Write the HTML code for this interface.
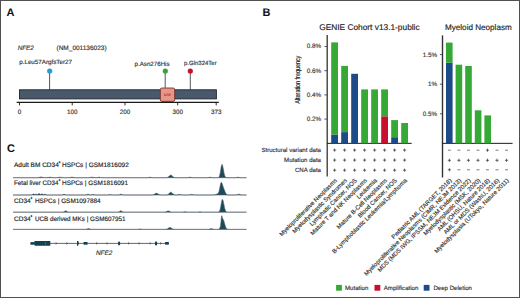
<!DOCTYPE html><html><head><meta charset="utf-8"><style>html,body{margin:0;padding:0;background:#fff;width:520px;height:298px;overflow:hidden}</style></head><body><svg width="520" height="298" viewBox="0 0 520 298" style="display:block;font-family:'Liberation Sans', sans-serif;text-rendering:geometricPrecision">
<rect x="0" y="0" width="520" height="298" fill="#fff"/>
<text x="6.6" y="15.9" font-size="11" font-weight="bold" fill="#111">A</text>
<text x="262.4" y="16.1" font-size="11" font-weight="bold" fill="#111">B</text>
<text x="7.0" y="152.2" font-size="11" font-weight="bold" fill="#111">C</text>
<text x="17.7" y="49.8" font-size="6.3" font-style="italic" fill="#333" stroke="#333" stroke-width="0.15">NFE2</text>
<text x="56.5" y="49.8" font-size="6.5" fill="#333" stroke="#333" stroke-width="0.15">(NM_001136023)</text>
<text x="19.2" y="63.8" font-size="6.25" fill="#333" stroke="#333" stroke-width="0.15">p.Leu57ArgfsTer27</text>
<text x="134.5" y="65.5" font-size="6.2" fill="#333" stroke="#333" stroke-width="0.15">p.Asn276His</text>
<text x="184" y="65.3" font-size="6" fill="#333" stroke="#333" stroke-width="0.15">p.Gln324Ter</text>
<line x1="49.6" y1="71" x2="49.6" y2="89.8" stroke="#2b2b2b" stroke-width="0.8"/>
<line x1="165.2" y1="71" x2="165.2" y2="87.8" stroke="#2b2b2b" stroke-width="0.8"/>
<line x1="190.3" y1="71" x2="190.3" y2="89.8" stroke="#2b2b2b" stroke-width="0.8"/>
<rect x="19.5" y="89.8" width="196.9" height="9.1" fill="#4a596a" stroke="#1e2631" stroke-width="0.9"/>
<rect x="160.3" y="88" width="14.4" height="13.4" rx="1.6" fill="#e8968a" stroke="#6b2a22" stroke-width="0.85"/>
<text x="167.4" y="96.3" font-size="3.2" font-style="italic" text-anchor="middle" fill="#b03a30" stroke="#b03a30" stroke-width="0.15">bZIP</text>
<circle cx="49.7" cy="71" r="2.6" fill="#2a9ad6"/>
<circle cx="165.3" cy="71" r="2.6" fill="#3aa03a"/>
<circle cx="190.3" cy="71" r="2.6" fill="#c8102e"/>
<line x1="16.7" y1="102.4" x2="218.8" y2="102.4" stroke="#1a1a1a" stroke-width="1.1"/>
<line x1="19.50" y1="102.4" x2="19.50" y2="105.4" stroke="#1a1a1a" stroke-width="0.9"/>
<text x="19.50" y="114.1" font-size="6.3" text-anchor="middle" fill="#333" stroke="#333" stroke-width="0.15">0</text>
<line x1="72.23" y1="102.4" x2="72.23" y2="105.4" stroke="#1a1a1a" stroke-width="0.9"/>
<text x="72.23" y="114.1" font-size="6.3" text-anchor="middle" fill="#333" stroke="#333" stroke-width="0.15">100</text>
<line x1="124.97" y1="102.4" x2="124.97" y2="105.4" stroke="#1a1a1a" stroke-width="0.9"/>
<text x="124.97" y="114.1" font-size="6.3" text-anchor="middle" fill="#333" stroke="#333" stroke-width="0.15">200</text>
<line x1="177.70" y1="102.4" x2="177.70" y2="105.4" stroke="#1a1a1a" stroke-width="0.9"/>
<text x="177.70" y="114.1" font-size="6.3" text-anchor="middle" fill="#333" stroke="#333" stroke-width="0.15">300</text>
<line x1="216.20" y1="102.4" x2="216.20" y2="105.4" stroke="#1a1a1a" stroke-width="0.9"/>
<text x="216.20" y="114.1" font-size="6.3" text-anchor="middle" fill="#333" stroke="#333" stroke-width="0.15">373</text>
<text x="319.2" y="29.5" font-size="8.33" fill="#222" stroke="#222" stroke-width="0.15">GENIE Cohort v13.1-public</text>
<line x1="327.2" y1="35" x2="327.2" y2="176.5" stroke="#333" stroke-width="1.3"/>
<line x1="327" y1="143.35" x2="411.7" y2="143.35" stroke="#1a1a1a" stroke-width="1.0"/>
<line x1="324.4" y1="46.50" x2="327" y2="46.50" stroke="#333" stroke-width="0.8"/>
<text x="321.2" y="48.40" font-size="6.3" text-anchor="end" fill="#3a3a3a" stroke="#3a3a3a" stroke-width="0.15">0.8%</text>
<line x1="324.4" y1="70.70" x2="327" y2="70.70" stroke="#333" stroke-width="0.8"/>
<text x="321.2" y="72.60" font-size="6.3" text-anchor="end" fill="#3a3a3a" stroke="#3a3a3a" stroke-width="0.15">0.6%</text>
<line x1="324.4" y1="94.90" x2="327" y2="94.90" stroke="#333" stroke-width="0.8"/>
<text x="321.2" y="96.80" font-size="6.3" text-anchor="end" fill="#3a3a3a" stroke="#3a3a3a" stroke-width="0.15">0.4%</text>
<line x1="324.4" y1="119.10" x2="327" y2="119.10" stroke="#333" stroke-width="0.8"/>
<text x="321.2" y="121.00" font-size="6.3" text-anchor="end" fill="#3a3a3a" stroke="#3a3a3a" stroke-width="0.15">0.2%</text>
<text transform="translate(299.6,79.7) rotate(-90) scale(0.75,1)" font-size="7.2" text-anchor="middle" fill="#111" stroke="#111" stroke-width="0.15">Alteration frequency</text>
<rect x="331.20" y="134.50" width="6.8" height="8.80" fill="#1c4b87"/>
<rect x="331.20" y="42.40" width="6.8" height="92.10" fill="#36a836"/>
<rect x="341.20" y="132.10" width="6.8" height="11.20" fill="#1c4b87"/>
<rect x="341.20" y="65.90" width="6.8" height="66.20" fill="#36a836"/>
<rect x="351.20" y="73.80" width="6.8" height="69.50" fill="#1c4b87"/>
<rect x="361.20" y="89.40" width="6.8" height="53.90" fill="#36a836"/>
<rect x="371.20" y="89.40" width="6.8" height="53.90" fill="#36a836"/>
<rect x="381.20" y="116.30" width="6.8" height="27.00" fill="#c8102e"/>
<rect x="381.20" y="89.40" width="6.8" height="26.90" fill="#36a836"/>
<rect x="391.20" y="137.20" width="6.8" height="6.10" fill="#1c4b87"/>
<rect x="391.20" y="120.10" width="6.8" height="17.10" fill="#36a836"/>
<rect x="401.20" y="123.00" width="6.8" height="20.30" fill="#36a836"/>
<text x="321" y="152.3" font-size="6.1" text-anchor="end" fill="#333" stroke="#333" stroke-width="0.15">Structural variant data</text>
<text x="321" y="162.2" font-size="6.1" text-anchor="end" fill="#333" stroke="#333" stroke-width="0.15">Mutation data</text>
<text x="321" y="172.2" font-size="6.1" text-anchor="end" fill="#333" stroke="#333" stroke-width="0.15">CNA data</text>
<path d="M333.00,150.10H336.20M334.60,148.50V151.70" stroke="#3a3a3a" stroke-width="0.75"/>
<path d="M333.00,160.10H336.20M334.60,158.50V161.70" stroke="#3a3a3a" stroke-width="0.75"/>
<path d="M333.00,170.20H336.20M334.60,168.60V171.80" stroke="#3a3a3a" stroke-width="0.75"/>
<path d="M343.00,150.10H346.20M344.60,148.50V151.70" stroke="#3a3a3a" stroke-width="0.75"/>
<path d="M343.00,160.10H346.20M344.60,158.50V161.70" stroke="#3a3a3a" stroke-width="0.75"/>
<path d="M343.00,170.20H346.20M344.60,168.60V171.80" stroke="#3a3a3a" stroke-width="0.75"/>
<path d="M353.00,150.10H356.20M354.60,148.50V151.70" stroke="#3a3a3a" stroke-width="0.75"/>
<path d="M353.00,160.10H356.20M354.60,158.50V161.70" stroke="#3a3a3a" stroke-width="0.75"/>
<path d="M353.00,170.20H356.20M354.60,168.60V171.80" stroke="#3a3a3a" stroke-width="0.75"/>
<path d="M363.00,150.10H366.20M364.60,148.50V151.70" stroke="#3a3a3a" stroke-width="0.75"/>
<path d="M363.00,160.10H366.20M364.60,158.50V161.70" stroke="#3a3a3a" stroke-width="0.75"/>
<path d="M363.00,170.20H366.20M364.60,168.60V171.80" stroke="#3a3a3a" stroke-width="0.75"/>
<path d="M373.00,150.10H376.20M374.60,148.50V151.70" stroke="#3a3a3a" stroke-width="0.75"/>
<path d="M373.00,160.10H376.20M374.60,158.50V161.70" stroke="#3a3a3a" stroke-width="0.75"/>
<path d="M373.00,170.20H376.20M374.60,168.60V171.80" stroke="#3a3a3a" stroke-width="0.75"/>
<path d="M383.00,150.10H386.20M384.60,148.50V151.70" stroke="#3a3a3a" stroke-width="0.75"/>
<path d="M383.00,160.10H386.20M384.60,158.50V161.70" stroke="#3a3a3a" stroke-width="0.75"/>
<path d="M383.00,170.20H386.20M384.60,168.60V171.80" stroke="#3a3a3a" stroke-width="0.75"/>
<path d="M393.00,150.10H396.20M394.60,148.50V151.70" stroke="#3a3a3a" stroke-width="0.75"/>
<path d="M393.00,160.10H396.20M394.60,158.50V161.70" stroke="#3a3a3a" stroke-width="0.75"/>
<path d="M393.00,170.20H396.20M394.60,168.60V171.80" stroke="#3a3a3a" stroke-width="0.75"/>
<path d="M403.00,150.10H406.20M404.60,148.50V151.70" stroke="#3a3a3a" stroke-width="0.75"/>
<path d="M403.00,160.10H406.20M404.60,158.50V161.70" stroke="#3a3a3a" stroke-width="0.75"/>
<path d="M403.00,170.20H406.20M404.60,168.60V171.80" stroke="#3a3a3a" stroke-width="0.75"/>
<text transform="translate(337.30,180.90) rotate(-45)" font-size="6" text-anchor="end" fill="#333" stroke="#333" stroke-width="0.15">Myeloproliferative Neoplasms</text>
<text transform="translate(347.30,180.90) rotate(-45)" font-size="6" text-anchor="end" fill="#333" stroke="#333" stroke-width="0.15">Myelodysplastic Syndromes</text>
<text transform="translate(357.30,180.90) rotate(-45)" font-size="6" text-anchor="end" fill="#333" stroke="#333" stroke-width="0.15">Lymphatic Cancer, NOS</text>
<text transform="translate(367.30,180.90) rotate(-45)" font-size="6" text-anchor="end" fill="#333" stroke="#333" stroke-width="0.15">Mature T and NK Neoplasms</text>
<text transform="translate(377.30,180.90) rotate(-45)" font-size="6" text-anchor="end" fill="#333" stroke="#333" stroke-width="0.15">Leukemia</text>
<text transform="translate(387.30,180.90) rotate(-45)" font-size="6" text-anchor="end" fill="#333" stroke="#333" stroke-width="0.15">Mature B-Cell Neoplasms</text>
<text transform="translate(397.30,180.90) rotate(-45)" font-size="6" text-anchor="end" fill="#333" stroke="#333" stroke-width="0.15">Blood Cancer, NOS</text>
<text transform="translate(407.30,180.90) rotate(-45)" font-size="6" text-anchor="end" fill="#333" stroke="#333" stroke-width="0.15">B-Lymphoblastic Leukemia/Lymphoma</text>
<text x="445.0" y="29.7" font-size="8.12" fill="#222" stroke="#222" stroke-width="0.15">Myeloid Neoplasm</text>
<line x1="442.5" y1="35.4" x2="442.5" y2="177.5" stroke="#333" stroke-width="1.4"/>
<line x1="442.5" y1="143.35" x2="512.6" y2="143.35" stroke="#1a1a1a" stroke-width="1.0"/>
<line x1="439.9" y1="54.60" x2="442.5" y2="54.60" stroke="#333" stroke-width="0.8"/>
<text x="437.0" y="56.50" font-size="6.3" text-anchor="end" fill="#3a3a3a" stroke="#3a3a3a" stroke-width="0.15">1.5%</text>
<line x1="439.9" y1="84.20" x2="442.5" y2="84.20" stroke="#333" stroke-width="0.8"/>
<text x="437.0" y="86.10" font-size="6.3" text-anchor="end" fill="#3a3a3a" stroke="#3a3a3a" stroke-width="0.15">1%</text>
<line x1="439.9" y1="113.80" x2="442.5" y2="113.80" stroke="#333" stroke-width="0.8"/>
<text x="437.0" y="115.70" font-size="6.3" text-anchor="end" fill="#3a3a3a" stroke="#3a3a3a" stroke-width="0.15">0.5%</text>
<rect x="446.00" y="62.70" width="6.6" height="80.70" fill="#1c4b87"/>
<rect x="446.00" y="42.60" width="6.6" height="20.10" fill="#36a836"/>
<rect x="455.60" y="64.70" width="6.6" height="78.70" fill="#36a836"/>
<rect x="465.20" y="66.00" width="6.6" height="77.40" fill="#36a836"/>
<rect x="474.80" y="110.30" width="6.6" height="33.10" fill="#36a836"/>
<rect x="484.40" y="115.40" width="6.6" height="28.00" fill="#36a836"/>
<path d="M447.90,150.20H450.90" stroke="#444" stroke-width="0.7"/>
<path d="M457.42,150.20H460.42" stroke="#444" stroke-width="0.7"/>
<path d="M466.94,150.20H469.94" stroke="#444" stroke-width="0.7"/>
<path d="M476.46,150.20H479.46" stroke="#444" stroke-width="0.7"/>
<path d="M485.88,150.20H489.08M487.48,148.60V151.80" stroke="#3a3a3a" stroke-width="0.75"/>
<path d="M495.50,150.20H498.50" stroke="#444" stroke-width="0.7"/>
<path d="M505.02,150.20H508.02" stroke="#444" stroke-width="0.7"/>
<path d="M447.80,160.30H451.00M449.40,158.70V161.90" stroke="#3a3a3a" stroke-width="0.75"/>
<path d="M457.32,160.30H460.52M458.92,158.70V161.90" stroke="#3a3a3a" stroke-width="0.75"/>
<path d="M466.84,160.30H470.04M468.44,158.70V161.90" stroke="#3a3a3a" stroke-width="0.75"/>
<path d="M476.36,160.30H479.56M477.96,158.70V161.90" stroke="#3a3a3a" stroke-width="0.75"/>
<path d="M485.88,160.30H489.08M487.48,158.70V161.90" stroke="#3a3a3a" stroke-width="0.75"/>
<path d="M495.40,160.30H498.60M497.00,158.70V161.90" stroke="#3a3a3a" stroke-width="0.75"/>
<path d="M504.92,160.30H508.12M506.52,158.70V161.90" stroke="#3a3a3a" stroke-width="0.75"/>
<path d="M447.80,169.80H451.00M449.40,168.20V171.40" stroke="#3a3a3a" stroke-width="0.75"/>
<path d="M457.42,169.80H460.42" stroke="#444" stroke-width="0.7"/>
<path d="M466.94,169.80H469.94" stroke="#444" stroke-width="0.7"/>
<path d="M476.46,169.80H479.46" stroke="#444" stroke-width="0.7"/>
<path d="M485.98,169.80H488.98" stroke="#444" stroke-width="0.7"/>
<path d="M495.50,169.80H498.50" stroke="#444" stroke-width="0.7"/>
<path d="M505.02,169.80H508.02" stroke="#444" stroke-width="0.7"/>
<text transform="translate(452.10,180.90) rotate(-45)" font-size="6" text-anchor="end" fill="#333" stroke="#333" stroke-width="0.15">Pediatric AML (TARGET, 2018)</text>
<text transform="translate(461.62,180.90) rotate(-45)" font-size="6" text-anchor="end" fill="#333" stroke="#333" stroke-width="0.15">Myeloproliferative Neoplasms (CIMR, NEJM 2013)</text>
<text transform="translate(471.14,180.90) rotate(-45)" font-size="6" text-anchor="end" fill="#333" stroke="#333" stroke-width="0.15">MDS (MDS IWG, IPSSM, NEJM Evidence 2022)</text>
<text transform="translate(480.66,180.90) rotate(-45)" font-size="6" text-anchor="end" fill="#333" stroke="#333" stroke-width="0.15">Myelodysplastic (MSK, 2020)</text>
<text transform="translate(490.18,180.90) rotate(-45)" font-size="6" text-anchor="end" fill="#333" stroke="#333" stroke-width="0.15">AML (OHSU, Nature 2018)</text>
<text transform="translate(499.70,180.90) rotate(-45)" font-size="6" text-anchor="end" fill="#333" stroke="#333" stroke-width="0.15">AML or MDS (WashU, 2016)</text>
<text transform="translate(509.22,180.90) rotate(-45)" font-size="6" text-anchor="end" fill="#333" stroke="#333" stroke-width="0.15">Myelodysplasia (UTokyo, Nature 2011)</text>
<rect x="336.1" y="284.9" width="5.8" height="5.8" fill="#36a836"/>
<text x="345" y="290.1" font-size="6.1" fill="#333" stroke="#333" stroke-width="0.15">Mutation</text>
<rect x="374.5" y="284.9" width="5.8" height="5.8" fill="#c8102e"/>
<text x="383.8" y="290.1" font-size="6.1" fill="#333" stroke="#333" stroke-width="0.15">Amplification</text>
<rect x="423.7" y="284.9" width="5.8" height="5.8" fill="#1c4b87"/>
<text x="433.4" y="290.1" font-size="6.1" fill="#333" stroke="#333" stroke-width="0.15">Deep Deletion</text>
<path d="M13.00,177.70 L13.00,177.70 L13.25,177.70 L13.50,177.70 L13.75,177.70 L14.00,177.70 L14.25,177.70 L14.50,177.70 L14.75,177.70 L15.00,177.70 L15.25,177.70 L15.50,177.70 L15.75,177.70 L16.00,177.70 L16.25,177.70 L16.50,177.70 L16.75,177.70 L17.00,177.70 L17.25,177.70 L17.50,177.70 L17.75,177.70 L18.00,177.70 L18.25,177.70 L18.50,177.70 L18.75,177.70 L19.00,177.70 L19.25,177.70 L19.50,177.70 L19.75,177.70 L20.00,177.70 L20.25,177.70 L20.50,177.70 L20.75,177.70 L21.00,177.70 L21.25,177.70 L21.50,177.70 L21.75,177.70 L22.00,177.70 L22.25,177.70 L22.50,177.70 L22.75,177.70 L23.00,177.70 L23.25,177.70 L23.50,177.70 L23.75,177.70 L24.00,177.70 L24.25,177.70 L24.50,177.70 L24.75,177.70 L25.00,177.70 L25.25,177.70 L25.50,177.70 L25.75,177.70 L26.00,177.70 L26.25,177.70 L26.50,177.70 L26.75,177.70 L27.00,177.70 L27.25,177.70 L27.50,177.70 L27.75,177.70 L28.00,177.70 L28.25,177.70 L28.50,177.70 L28.75,177.70 L29.00,177.70 L29.25,177.70 L29.50,177.70 L29.75,177.70 L30.00,177.70 L30.25,177.70 L30.50,177.70 L30.75,177.70 L31.00,177.70 L31.25,177.70 L31.50,177.70 L31.75,177.70 L32.00,177.70 L32.25,177.70 L32.50,177.70 L32.75,177.70 L33.00,177.70 L33.25,177.70 L33.50,177.70 L33.75,177.70 L34.00,177.70 L34.25,177.70 L34.50,177.70 L34.75,177.70 L35.00,177.70 L35.25,177.70 L35.50,177.70 L35.75,177.70 L36.00,177.70 L36.25,177.70 L36.50,177.69 L36.75,177.69 L37.00,177.68 L37.25,177.67 L37.50,177.65 L37.75,177.63 L38.00,177.61 L38.25,177.57 L38.50,177.53 L38.75,177.47 L39.00,177.41 L39.25,177.35 L39.50,177.28 L39.75,177.21 L40.00,177.14 L40.25,177.08 L40.50,177.04 L40.75,177.01 L41.00,177.00 L41.25,177.01 L41.50,177.04 L41.75,177.08 L42.00,177.14 L42.25,177.21 L42.50,177.28 L42.75,177.35 L43.00,177.41 L43.25,177.47 L43.50,177.53 L43.75,177.57 L44.00,177.61 L44.25,177.63 L44.50,177.65 L44.75,177.67 L45.00,177.68 L45.25,177.68 L45.50,177.69 L45.75,177.69 L46.00,177.68 L46.25,177.68 L46.50,177.67 L46.75,177.65 L47.00,177.63 L47.25,177.61 L47.50,177.58 L47.75,177.54 L48.00,177.49 L48.25,177.45 L48.50,177.40 L48.75,177.35 L49.00,177.30 L49.25,177.26 L49.50,177.23 L49.75,177.21 L50.00,177.20 L50.25,177.21 L50.50,177.23 L50.75,177.26 L51.00,177.30 L51.25,177.35 L51.50,177.40 L51.75,177.45 L52.00,177.49 L52.25,177.54 L52.50,177.58 L52.75,177.61 L53.00,177.63 L53.25,177.65 L53.50,177.67 L53.75,177.68 L54.00,177.69 L54.25,177.69 L54.50,177.69 L54.75,177.70 L55.00,177.70 L55.25,177.70 L55.50,177.69 L55.75,177.69 L56.00,177.69 L56.25,177.68 L56.50,177.67 L56.75,177.65 L57.00,177.63 L57.25,177.61 L57.50,177.58 L57.75,177.54 L58.00,177.49 L58.25,177.45 L58.50,177.40 L58.75,177.35 L59.00,177.30 L59.25,177.26 L59.50,177.23 L59.75,177.21 L60.00,177.20 L60.25,177.21 L60.50,177.23 L60.75,177.26 L61.00,177.30 L61.25,177.35 L61.50,177.40 L61.75,177.45 L62.00,177.49 L62.25,177.54 L62.50,177.58 L62.75,177.61 L63.00,177.63 L63.25,177.65 L63.50,177.67 L63.75,177.68 L64.00,177.69 L64.25,177.69 L64.50,177.69 L64.75,177.70 L65.00,177.70 L65.25,177.70 L65.50,177.70 L65.75,177.70 L66.00,177.70 L66.25,177.70 L66.50,177.70 L66.75,177.70 L67.00,177.70 L67.25,177.70 L67.50,177.69 L67.75,177.69 L68.00,177.69 L68.25,177.68 L68.50,177.67 L68.75,177.65 L69.00,177.63 L69.25,177.61 L69.50,177.58 L69.75,177.54 L70.00,177.49 L70.25,177.45 L70.50,177.40 L70.75,177.35 L71.00,177.30 L71.25,177.26 L71.50,177.23 L71.75,177.21 L72.00,177.20 L72.25,177.21 L72.50,177.23 L72.75,177.26 L73.00,177.30 L73.25,177.35 L73.50,177.40 L73.75,177.45 L74.00,177.49 L74.25,177.54 L74.50,177.58 L74.75,177.61 L75.00,177.63 L75.25,177.65 L75.50,177.67 L75.75,177.68 L76.00,177.69 L76.25,177.69 L76.50,177.69 L76.75,177.70 L77.00,177.70 L77.25,177.70 L77.50,177.70 L77.75,177.70 L78.00,177.70 L78.25,177.70 L78.50,177.70 L78.75,177.70 L79.00,177.70 L79.25,177.70 L79.50,177.70 L79.75,177.70 L80.00,177.70 L80.25,177.70 L80.50,177.70 L80.75,177.70 L81.00,177.70 L81.25,177.70 L81.50,177.70 L81.75,177.70 L82.00,177.70 L82.25,177.70 L82.50,177.70 L82.75,177.70 L83.00,177.70 L83.25,177.70 L83.50,177.70 L83.75,177.70 L84.00,177.70 L84.25,177.70 L84.50,177.70 L84.75,177.70 L85.00,177.70 L85.25,177.70 L85.50,177.70 L85.75,177.70 L86.00,177.70 L86.25,177.70 L86.50,177.70 L86.75,177.70 L87.00,177.70 L87.25,177.70 L87.50,177.69 L87.75,177.69 L88.00,177.69 L88.25,177.68 L88.50,177.67 L88.75,177.65 L89.00,177.63 L89.25,177.61 L89.50,177.58 L89.75,177.54 L90.00,177.49 L90.25,177.45 L90.50,177.40 L90.75,177.35 L91.00,177.30 L91.25,177.26 L91.50,177.23 L91.75,177.21 L92.00,177.20 L92.25,177.21 L92.50,177.23 L92.75,177.26 L93.00,177.30 L93.25,177.35 L93.50,177.40 L93.75,177.45 L94.00,177.49 L94.25,177.54 L94.50,177.57 L94.75,177.61 L95.00,177.63 L95.25,177.65 L95.50,177.66 L95.75,177.67 L96.00,177.66 L96.25,177.65 L96.50,177.64 L96.75,177.61 L97.00,177.57 L97.25,177.53 L97.50,177.47 L97.75,177.41 L98.00,177.35 L98.25,177.29 L98.50,177.24 L98.75,177.21 L99.00,177.20 L99.25,177.21 L99.50,177.24 L99.75,177.29 L100.00,177.35 L100.25,177.41 L100.50,177.47 L100.75,177.53 L101.00,177.58 L101.25,177.61 L101.50,177.64 L101.75,177.66 L102.00,177.68 L102.25,177.69 L102.50,177.69 L102.75,177.70 L103.00,177.70 L103.25,177.70 L103.50,177.70 L103.75,177.70 L104.00,177.70 L104.25,177.70 L104.50,177.70 L104.75,177.70 L105.00,177.70 L105.25,177.70 L105.50,177.70 L105.75,177.70 L106.00,177.70 L106.25,177.70 L106.50,177.70 L106.75,177.70 L107.00,177.70 L107.25,177.70 L107.50,177.70 L107.75,177.70 L108.00,177.70 L108.25,177.70 L108.50,177.70 L108.75,177.70 L109.00,177.70 L109.25,177.70 L109.50,177.70 L109.75,177.70 L110.00,177.70 L110.25,177.70 L110.50,177.70 L110.75,177.70 L111.00,177.70 L111.25,177.70 L111.50,177.70 L111.75,177.70 L112.00,177.70 L112.25,177.70 L112.50,177.70 L112.75,177.70 L113.00,177.70 L113.25,177.70 L113.50,177.70 L113.75,177.70 L114.00,177.70 L114.25,177.70 L114.50,177.70 L114.75,177.70 L115.00,177.70 L115.25,177.70 L115.50,177.70 L115.75,177.70 L116.00,177.70 L116.25,177.70 L116.50,177.70 L116.75,177.70 L117.00,177.70 L117.25,177.70 L117.50,177.70 L117.75,177.70 L118.00,177.70 L118.25,177.70 L118.50,177.70 L118.75,177.70 L119.00,177.70 L119.25,177.70 L119.50,177.70 L119.75,177.70 L120.00,177.70 L120.25,177.70 L120.50,177.70 L120.75,177.70 L121.00,177.70 L121.25,177.70 L121.50,177.70 L121.75,177.70 L122.00,177.70 L122.25,177.70 L122.50,177.70 L122.75,177.70 L123.00,177.70 L123.25,177.70 L123.50,177.70 L123.75,177.70 L124.00,177.70 L124.25,177.70 L124.50,177.70 L124.75,177.70 L125.00,177.70 L125.25,177.70 L125.50,177.70 L125.75,177.70 L126.00,177.70 L126.25,177.70 L126.50,177.70 L126.75,177.70 L127.00,177.70 L127.25,177.70 L127.50,177.70 L127.75,177.70 L128.00,177.70 L128.25,177.70 L128.50,177.70 L128.75,177.70 L129.00,177.70 L129.25,177.70 L129.50,177.70 L129.75,177.70 L130.00,177.70 L130.25,177.70 L130.50,177.70 L130.75,177.70 L131.00,177.70 L131.25,177.70 L131.50,177.70 L131.75,177.70 L132.00,177.70 L132.25,177.70 L132.50,177.70 L132.75,177.70 L133.00,177.70 L133.25,177.70 L133.50,177.70 L133.75,177.70 L134.00,177.70 L134.25,177.70 L134.50,177.70 L134.75,177.70 L135.00,177.70 L135.25,177.70 L135.50,177.70 L135.75,177.70 L136.00,177.70 L136.25,177.70 L136.50,177.70 L136.75,177.70 L137.00,177.70 L137.25,177.70 L137.50,177.70 L137.75,177.70 L138.00,177.70 L138.25,177.70 L138.50,177.70 L138.75,177.70 L139.00,177.70 L139.25,177.70 L139.50,177.70 L139.75,177.70 L140.00,177.70 L140.25,177.70 L140.50,177.70 L140.75,177.70 L141.00,177.70 L141.25,177.70 L141.50,177.70 L141.75,177.70 L142.00,177.70 L142.25,177.70 L142.50,177.70 L142.75,177.70 L143.00,177.70 L143.25,177.70 L143.50,177.70 L143.75,177.70 L144.00,177.70 L144.25,177.70 L144.50,177.70 L144.75,177.70 L145.00,177.70 L145.25,177.70 L145.50,177.70 L145.75,177.70 L146.00,177.70 L146.25,177.70 L146.50,177.69 L146.75,177.69 L147.00,177.68 L147.25,177.67 L147.50,177.65 L147.75,177.63 L148.00,177.60 L148.25,177.56 L148.50,177.52 L148.75,177.47 L149.00,177.42 L149.25,177.37 L149.50,177.33 L149.75,177.31 L150.00,177.30 L150.25,177.31 L150.50,177.33 L150.75,177.37 L151.00,177.42 L151.25,177.47 L151.50,177.52 L151.75,177.56 L152.00,177.60 L152.25,177.63 L152.50,177.65 L152.75,177.67 L153.00,177.68 L153.25,177.69 L153.50,177.69 L153.75,177.70 L154.00,177.70 L154.25,177.70 L154.50,177.70 L154.75,177.70 L155.00,177.70 L155.25,177.70 L155.50,177.70 L155.75,177.70 L156.00,177.70 L156.25,177.70 L156.50,177.70 L156.75,177.70 L157.00,177.70 L157.25,177.70 L157.50,177.70 L157.75,177.70 L158.00,177.70 L158.25,177.70 L158.50,177.70 L158.75,177.70 L159.00,177.70 L159.25,177.70 L159.50,177.70 L159.75,177.70 L160.00,177.70 L160.25,177.70 L160.50,177.70 L160.75,177.70 L161.00,177.70 L161.25,177.70 L161.50,177.70 L161.75,177.70 L162.00,177.70 L162.25,177.70 L162.50,177.70 L162.75,177.70 L163.00,177.70 L163.25,177.70 L163.50,177.70 L163.75,177.70 L164.00,177.70 L164.25,177.70 L164.50,177.70 L164.75,177.70 L165.00,177.70 L165.25,177.69 L165.50,177.69 L165.75,177.68 L166.00,177.67 L166.25,177.65 L166.50,177.63 L166.75,177.59 L167.00,177.55 L167.25,177.48 L167.50,177.39 L167.75,177.28 L168.00,177.14 L168.25,176.97 L168.50,176.77 L168.75,176.56 L169.00,176.32 L169.25,176.07 L169.50,175.83 L169.75,175.60 L170.00,175.41 L170.25,175.25 L170.50,175.15 L170.75,175.10 L171.00,175.12 L171.25,175.20 L171.50,175.34 L171.75,175.52 L172.00,175.74 L172.25,175.98 L172.50,176.22 L172.75,176.46 L173.00,176.69 L173.25,176.89 L173.50,177.07 L173.75,177.22 L174.00,177.35 L174.25,177.45 L174.50,177.52 L174.75,177.58 L175.00,177.62 L175.25,177.65 L175.50,177.67 L175.75,177.68 L176.00,177.69 L176.25,177.69 L176.50,177.70 L176.75,177.70 L177.00,177.70 L177.25,177.70 L177.50,177.70 L177.75,177.70 L178.00,177.70 L178.25,177.70 L178.50,177.70 L178.75,177.70 L179.00,177.70 L179.25,177.70 L179.50,177.70 L179.75,177.70 L180.00,177.70 L180.25,177.70 L180.50,177.70 L180.75,177.70 L181.00,177.70 L181.25,177.70 L181.50,177.70 L181.75,177.70 L182.00,177.70 L182.25,177.70 L182.50,177.70 L182.75,177.70 L183.00,177.70 L183.25,177.70 L183.50,177.70 L183.75,177.70 L184.00,177.70 L184.25,177.70 L184.50,177.70 L184.75,177.70 L185.00,177.70 L185.25,177.70 L185.50,177.70 L185.75,177.70 L186.00,177.70 L186.25,177.70 L186.50,177.69 L186.75,177.69 L187.00,177.68 L187.25,177.66 L187.50,177.64 L187.75,177.61 L188.00,177.58 L188.25,177.53 L188.50,177.47 L188.75,177.41 L189.00,177.35 L189.25,177.29 L189.50,177.24 L189.75,177.21 L190.00,177.20 L190.25,177.21 L190.50,177.24 L190.75,177.29 L191.00,177.35 L191.25,177.41 L191.50,177.47 L191.75,177.53 L192.00,177.58 L192.25,177.61 L192.50,177.64 L192.75,177.66 L193.00,177.68 L193.25,177.69 L193.50,177.69 L193.75,177.70 L194.00,177.70 L194.25,177.70 L194.50,177.70 L194.75,177.70 L195.00,177.70 L195.25,177.70 L195.50,177.70 L195.75,177.70 L196.00,177.70 L196.25,177.70 L196.50,177.70 L196.75,177.70 L197.00,177.70 L197.25,177.70 L197.50,177.70 L197.75,177.70 L198.00,177.70 L198.25,177.70 L198.50,177.70 L198.75,177.70 L199.00,177.70 L199.25,177.70 L199.50,177.70 L199.75,177.70 L200.00,177.70 L200.25,177.70 L200.50,177.70 L200.75,177.70 L201.00,177.70 L201.25,177.70 L201.50,177.70 L201.75,177.70 L202.00,177.70 L202.25,177.70 L202.50,177.70 L202.75,177.70 L203.00,177.70 L203.25,177.70 L203.50,177.70 L203.75,177.70 L204.00,177.70 L204.25,177.70 L204.50,177.70 L204.75,177.70 L205.00,177.70 L205.25,177.70 L205.50,177.70 L205.75,177.70 L206.00,177.70 L206.25,177.70 L206.50,177.69 L206.75,177.69 L207.00,177.68 L207.25,177.67 L207.50,177.65 L207.75,177.63 L208.00,177.60 L208.25,177.56 L208.50,177.52 L208.75,177.47 L209.00,177.42 L209.25,177.37 L209.50,177.33 L209.75,177.31 L210.00,177.30 L210.25,177.31 L210.50,177.33 L210.75,177.37 L211.00,177.42 L211.25,177.47 L211.50,177.52 L211.75,177.56 L212.00,177.60 L212.25,177.63 L212.50,177.65 L212.75,177.67 L213.00,177.68 L213.25,177.69 L213.50,177.69 L213.75,177.70 L214.00,177.70 L214.25,177.70 L214.50,177.70 L214.75,177.70 L215.00,177.70 L215.25,177.70 L215.50,177.70 L215.75,177.70 L216.00,177.70 L216.25,177.70 L216.50,177.70 L216.75,177.70 L217.00,177.70 L217.25,177.69 L217.50,177.68 L217.75,177.66 L218.00,177.62 L218.25,177.55 L218.50,177.44 L218.75,177.25 L219.00,176.95 L219.25,176.52 L219.50,175.90 L219.75,175.07 L220.00,174.00 L220.25,172.71 L220.50,171.23 L220.75,169.63 L221.00,168.04 L221.25,166.59 L221.50,165.42 L221.75,164.66 L222.00,164.40 L222.25,164.61 L222.50,165.22 L222.75,166.18 L223.00,167.39 L223.25,168.77 L223.50,170.21 L223.75,171.61 L224.00,172.91 L224.25,174.04 L224.50,175.00 L224.75,175.77 L225.00,176.36 L225.25,176.80 L225.50,177.12 L225.75,177.33 L226.00,177.48 L226.25,177.57 L226.50,177.62 L226.75,177.66 L227.00,177.68 L227.25,177.69 L227.50,177.69 L227.75,177.70 L228.00,177.70 L228.25,177.70 L228.50,177.70 L228.75,177.70 L229.00,177.70 L229.25,177.70 L229.50,177.70 L229.75,177.70 L230.00,177.70 L230.25,177.70 L230.50,177.70 L230.75,177.70 L231.00,177.70 L231.25,177.70 L231.50,177.70 L231.75,177.70 L232.00,177.70 L232.25,177.70 L232.50,177.70 L232.75,177.70 L233.00,177.70 L233.25,177.70 L233.50,177.70 L233.75,177.70 L234.00,177.70 L234.25,177.70 L234.50,177.69 L234.75,177.69 L235.00,177.68 L235.25,177.67 L235.50,177.65 L235.75,177.63 L236.00,177.60 L236.25,177.56 L236.50,177.52 L236.75,177.47 L237.00,177.42 L237.25,177.37 L237.50,177.33 L237.75,177.31 L238.00,177.30 L238.25,177.31 L238.50,177.33 L238.75,177.37 L239.00,177.42 L239.25,177.47 L239.50,177.52 L239.75,177.56 L240.00,177.60 L240.25,177.63 L240.50,177.65 L240.75,177.67 L241.00,177.68 L241.25,177.69 L241.50,177.69 L241.75,177.70 L242.00,177.70 L242.25,177.70 L242.50,177.70 L242.75,177.70 L243.00,177.70 L243.25,177.70 L243.50,177.70 L243.75,177.70 L244.00,177.70 L244.25,177.70 L244.50,177.70 L244.75,177.70 L245.00,177.70 L245.25,177.70 L245.50,177.70 L245.75,177.70 L246.00,177.70 L246.25,177.70 L246.50,177.70 L246.50,177.70 Z" fill="#1b4a5a" stroke="#4d5d66" stroke-width="0.6" stroke-linejoin="round"/>
<text x="14" y="166.90" font-size="6.5" fill="#222" stroke="#222" stroke-width="0.15">Adult BM CD34</text>
<text x="62.0" y="166.90" font-size="6.5" fill="#222" stroke="#222" stroke-width="0.15" textLength="66.80" lengthAdjust="spacingAndGlyphs">HSPCs | GSM1816092</text>
<path d="M58.45,162.20H60.75M59.60,161.05V163.35" stroke="#222" stroke-width="0.6"/>
<path d="M13.00,195.00 L13.00,195.00 L13.25,195.00 L13.50,195.00 L13.75,195.00 L14.00,195.00 L14.25,195.00 L14.50,195.00 L14.75,195.00 L15.00,195.00 L15.25,195.00 L15.50,195.00 L15.75,195.00 L16.00,195.00 L16.25,195.00 L16.50,195.00 L16.75,195.00 L17.00,195.00 L17.25,195.00 L17.50,195.00 L17.75,195.00 L18.00,195.00 L18.25,195.00 L18.50,195.00 L18.75,195.00 L19.00,195.00 L19.25,195.00 L19.50,195.00 L19.75,195.00 L20.00,195.00 L20.25,195.00 L20.50,195.00 L20.75,195.00 L21.00,195.00 L21.25,195.00 L21.50,195.00 L21.75,195.00 L22.00,195.00 L22.25,195.00 L22.50,195.00 L22.75,195.00 L23.00,195.00 L23.25,195.00 L23.50,195.00 L23.75,195.00 L24.00,195.00 L24.25,195.00 L24.50,195.00 L24.75,195.00 L25.00,195.00 L25.25,195.00 L25.50,195.00 L25.75,195.00 L26.00,195.00 L26.25,195.00 L26.50,195.00 L26.75,195.00 L27.00,195.00 L27.25,195.00 L27.50,195.00 L27.75,195.00 L28.00,195.00 L28.25,195.00 L28.50,195.00 L28.75,195.00 L29.00,195.00 L29.25,195.00 L29.50,195.00 L29.75,195.00 L30.00,195.00 L30.25,195.00 L30.50,195.00 L30.75,195.00 L31.00,194.99 L31.25,194.98 L31.50,194.95 L31.75,194.90 L32.00,194.81 L32.25,194.68 L32.50,194.50 L32.75,194.29 L33.00,194.09 L33.25,193.95 L33.50,193.89 L33.75,193.94 L34.00,194.06 L34.25,194.22 L34.50,194.36 L34.75,194.44 L35.00,194.44 L35.25,194.38 L35.50,194.29 L35.75,194.21 L36.00,194.19 L36.25,194.22 L36.50,194.31 L36.75,194.42 L37.00,194.52 L37.25,194.55 L37.50,194.51 L37.75,194.39 L38.00,194.21 L38.25,194.00 L38.50,193.79 L38.75,193.65 L39.00,193.60 L39.25,193.65 L39.50,193.79 L39.75,193.99 L40.00,194.20 L40.25,194.37 L40.50,194.46 L40.75,194.46 L41.00,194.38 L41.25,194.23 L41.50,194.07 L41.75,193.94 L42.00,193.89 L42.25,193.95 L42.50,194.09 L42.75,194.28 L43.00,194.46 L43.25,194.60 L43.50,194.67 L43.75,194.66 L44.00,194.59 L44.25,194.46 L44.50,194.33 L44.75,194.24 L45.00,194.20 L45.25,194.24 L45.50,194.34 L45.75,194.48 L46.00,194.63 L46.25,194.76 L46.50,194.86 L46.75,194.93 L47.00,194.96 L47.25,194.98 L47.50,194.99 L47.75,195.00 L48.00,195.00 L48.25,195.00 L48.50,195.00 L48.75,195.00 L49.00,195.00 L49.25,195.00 L49.50,195.00 L49.75,195.00 L50.00,195.00 L50.25,195.00 L50.50,195.00 L50.75,195.00 L51.00,195.00 L51.25,195.00 L51.50,195.00 L51.75,195.00 L52.00,195.00 L52.25,195.00 L52.50,195.00 L52.75,195.00 L53.00,195.00 L53.25,195.00 L53.50,195.00 L53.75,195.00 L54.00,195.00 L54.25,195.00 L54.50,195.00 L54.75,195.00 L55.00,195.00 L55.25,195.00 L55.50,195.00 L55.75,195.00 L56.00,195.00 L56.25,195.00 L56.50,195.00 L56.75,195.00 L57.00,195.00 L57.25,195.00 L57.50,195.00 L57.75,195.00 L58.00,195.00 L58.25,195.00 L58.50,195.00 L58.75,195.00 L59.00,195.00 L59.25,195.00 L59.50,195.00 L59.75,195.00 L60.00,195.00 L60.25,195.00 L60.50,195.00 L60.75,195.00 L61.00,194.99 L61.25,194.98 L61.50,194.97 L61.75,194.94 L62.00,194.91 L62.25,194.85 L62.50,194.77 L62.75,194.68 L63.00,194.58 L63.25,194.47 L63.50,194.38 L63.75,194.32 L64.00,194.30 L64.25,194.32 L64.50,194.38 L64.75,194.47 L65.00,194.58 L65.25,194.68 L65.50,194.77 L65.75,194.85 L66.00,194.91 L66.25,194.94 L66.50,194.97 L66.75,194.98 L67.00,194.99 L67.25,195.00 L67.50,195.00 L67.75,195.00 L68.00,195.00 L68.25,195.00 L68.50,195.00 L68.75,195.00 L69.00,195.00 L69.25,195.00 L69.50,195.00 L69.75,195.00 L70.00,195.00 L70.25,195.00 L70.50,195.00 L70.75,195.00 L71.00,195.00 L71.25,195.00 L71.50,195.00 L71.75,195.00 L72.00,195.00 L72.25,195.00 L72.50,195.00 L72.75,195.00 L73.00,195.00 L73.25,195.00 L73.50,195.00 L73.75,195.00 L74.00,195.00 L74.25,195.00 L74.50,195.00 L74.75,195.00 L75.00,195.00 L75.25,195.00 L75.50,195.00 L75.75,195.00 L76.00,195.00 L76.25,195.00 L76.50,195.00 L76.75,195.00 L77.00,195.00 L77.25,195.00 L77.50,195.00 L77.75,195.00 L78.00,195.00 L78.25,195.00 L78.50,195.00 L78.75,195.00 L79.00,195.00 L79.25,195.00 L79.50,195.00 L79.75,195.00 L80.00,195.00 L80.25,195.00 L80.50,195.00 L80.75,195.00 L81.00,195.00 L81.25,195.00 L81.50,195.00 L81.75,195.00 L82.00,195.00 L82.25,195.00 L82.50,195.00 L82.75,195.00 L83.00,195.00 L83.25,195.00 L83.50,195.00 L83.75,195.00 L84.00,195.00 L84.25,195.00 L84.50,195.00 L84.75,195.00 L85.00,194.99 L85.25,194.98 L85.50,194.97 L85.75,194.94 L86.00,194.91 L86.25,194.85 L86.50,194.77 L86.75,194.68 L87.00,194.58 L87.25,194.47 L87.50,194.38 L87.75,194.32 L88.00,194.30 L88.25,194.32 L88.50,194.38 L88.75,194.47 L89.00,194.58 L89.25,194.68 L89.50,194.77 L89.75,194.85 L90.00,194.90 L90.25,194.93 L90.50,194.94 L90.75,194.94 L91.00,194.91 L91.25,194.87 L91.50,194.80 L91.75,194.72 L92.00,194.64 L92.25,194.55 L92.50,194.47 L92.75,194.42 L93.00,194.40 L93.25,194.42 L93.50,194.47 L93.75,194.55 L94.00,194.64 L94.25,194.73 L94.50,194.81 L94.75,194.87 L95.00,194.92 L95.25,194.95 L95.50,194.97 L95.75,194.99 L96.00,194.99 L96.25,195.00 L96.50,195.00 L96.75,195.00 L97.00,195.00 L97.25,195.00 L97.50,195.00 L97.75,195.00 L98.00,195.00 L98.25,195.00 L98.50,195.00 L98.75,195.00 L99.00,195.00 L99.25,195.00 L99.50,195.00 L99.75,195.00 L100.00,195.00 L100.25,195.00 L100.50,195.00 L100.75,195.00 L101.00,195.00 L101.25,195.00 L101.50,195.00 L101.75,195.00 L102.00,195.00 L102.25,195.00 L102.50,195.00 L102.75,195.00 L103.00,195.00 L103.25,195.00 L103.50,195.00 L103.75,195.00 L104.00,195.00 L104.25,195.00 L104.50,195.00 L104.75,195.00 L105.00,195.00 L105.25,195.00 L105.50,195.00 L105.75,195.00 L106.00,195.00 L106.25,195.00 L106.50,195.00 L106.75,195.00 L107.00,195.00 L107.25,194.99 L107.50,194.98 L107.75,194.97 L108.00,194.95 L108.25,194.91 L108.50,194.87 L108.75,194.82 L109.00,194.76 L109.25,194.70 L109.50,194.65 L109.75,194.61 L110.00,194.60 L110.25,194.61 L110.50,194.65 L110.75,194.70 L111.00,194.76 L111.25,194.82 L111.50,194.87 L111.75,194.91 L112.00,194.95 L112.25,194.97 L112.50,194.98 L112.75,194.99 L113.00,195.00 L113.25,195.00 L113.50,195.00 L113.75,195.00 L114.00,195.00 L114.25,195.00 L114.50,195.00 L114.75,195.00 L115.00,195.00 L115.25,195.00 L115.50,195.00 L115.75,195.00 L116.00,195.00 L116.25,195.00 L116.50,195.00 L116.75,195.00 L117.00,195.00 L117.25,195.00 L117.50,195.00 L117.75,195.00 L118.00,194.99 L118.25,194.98 L118.50,194.96 L118.75,194.94 L119.00,194.89 L119.25,194.83 L119.50,194.74 L119.75,194.63 L120.00,194.51 L120.25,194.40 L120.50,194.29 L120.75,194.22 L121.00,194.20 L121.25,194.22 L121.50,194.29 L121.75,194.40 L122.00,194.51 L122.25,194.63 L122.50,194.74 L122.75,194.83 L123.00,194.89 L123.25,194.94 L123.50,194.96 L123.75,194.98 L124.00,194.99 L124.25,195.00 L124.50,195.00 L124.75,195.00 L125.00,195.00 L125.25,195.00 L125.50,195.00 L125.75,195.00 L126.00,195.00 L126.25,195.00 L126.50,195.00 L126.75,195.00 L127.00,195.00 L127.25,195.00 L127.50,195.00 L127.75,195.00 L128.00,195.00 L128.25,195.00 L128.50,195.00 L128.75,195.00 L129.00,195.00 L129.25,195.00 L129.50,195.00 L129.75,195.00 L130.00,195.00 L130.25,195.00 L130.50,195.00 L130.75,195.00 L131.00,195.00 L131.25,195.00 L131.50,195.00 L131.75,195.00 L132.00,195.00 L132.25,195.00 L132.50,195.00 L132.75,195.00 L133.00,195.00 L133.25,195.00 L133.50,195.00 L133.75,195.00 L134.00,195.00 L134.25,195.00 L134.50,195.00 L134.75,195.00 L135.00,195.00 L135.25,195.00 L135.50,195.00 L135.75,195.00 L136.00,195.00 L136.25,195.00 L136.50,195.00 L136.75,195.00 L137.00,195.00 L137.25,195.00 L137.50,195.00 L137.75,195.00 L138.00,195.00 L138.25,195.00 L138.50,195.00 L138.75,195.00 L139.00,195.00 L139.25,195.00 L139.50,195.00 L139.75,195.00 L140.00,195.00 L140.25,195.00 L140.50,195.00 L140.75,195.00 L141.00,195.00 L141.25,195.00 L141.50,195.00 L141.75,195.00 L142.00,195.00 L142.25,195.00 L142.50,195.00 L142.75,195.00 L143.00,195.00 L143.25,195.00 L143.50,195.00 L143.75,195.00 L144.00,195.00 L144.25,195.00 L144.50,195.00 L144.75,195.00 L145.00,195.00 L145.25,195.00 L145.50,195.00 L145.75,195.00 L146.00,195.00 L146.25,195.00 L146.50,195.00 L146.75,195.00 L147.00,195.00 L147.25,195.00 L147.50,195.00 L147.75,195.00 L148.00,195.00 L148.25,195.00 L148.50,195.00 L148.75,195.00 L149.00,195.00 L149.25,195.00 L149.50,195.00 L149.75,195.00 L150.00,195.00 L150.25,195.00 L150.50,195.00 L150.75,195.00 L151.00,194.99 L151.25,194.99 L151.50,194.98 L151.75,194.97 L152.00,194.96 L152.25,194.94 L152.50,194.91 L152.75,194.87 L153.00,194.81 L153.25,194.74 L153.50,194.65 L153.75,194.54 L154.00,194.42 L154.25,194.27 L154.50,194.11 L154.75,193.94 L155.00,193.77 L155.25,193.61 L155.50,193.46 L155.75,193.34 L156.00,193.26 L156.25,193.21 L156.50,193.20 L156.75,193.24 L157.00,193.32 L157.25,193.44 L157.50,193.58 L157.75,193.74 L158.00,193.91 L158.25,194.08 L158.50,194.24 L158.75,194.39 L159.00,194.52 L159.25,194.63 L159.50,194.72 L159.75,194.80 L160.00,194.86 L160.25,194.90 L160.50,194.93 L160.75,194.96 L161.00,194.97 L161.25,194.98 L161.50,194.99 L161.75,194.99 L162.00,195.00 L162.25,195.00 L162.50,195.00 L162.75,195.00 L163.00,195.00 L163.25,195.00 L163.50,195.00 L163.75,195.00 L164.00,195.00 L164.25,195.00 L164.50,195.00 L164.75,195.00 L165.00,195.00 L165.25,195.00 L165.50,194.99 L165.75,194.99 L166.00,194.98 L166.25,194.97 L166.50,194.95 L166.75,194.93 L167.00,194.89 L167.25,194.83 L167.50,194.75 L167.75,194.65 L168.00,194.51 L168.25,194.34 L168.50,194.14 L168.75,193.90 L169.00,193.64 L169.25,193.36 L169.50,193.08 L169.75,192.81 L170.00,192.57 L170.25,192.38 L170.50,192.26 L170.75,192.20 L171.00,192.22 L171.25,192.31 L171.50,192.46 L171.75,192.65 L172.00,192.89 L172.25,193.14 L172.50,193.41 L172.75,193.67 L173.00,193.91 L173.25,194.13 L173.50,194.33 L173.75,194.49 L174.00,194.62 L174.25,194.73 L174.50,194.81 L174.75,194.87 L175.00,194.91 L175.25,194.94 L175.50,194.96 L175.75,194.97 L176.00,194.97 L176.25,194.97 L176.50,194.96 L176.75,194.93 L177.00,194.90 L177.25,194.86 L177.50,194.80 L177.75,194.74 L178.00,194.67 L178.25,194.59 L178.50,194.52 L178.75,194.46 L179.00,194.42 L179.25,194.40 L179.50,194.41 L179.75,194.44 L180.00,194.49 L180.25,194.56 L180.50,194.64 L180.75,194.71 L181.00,194.78 L181.25,194.84 L181.50,194.89 L181.75,194.93 L182.00,194.95 L182.25,194.97 L182.50,194.98 L182.75,194.99 L183.00,194.99 L183.25,195.00 L183.50,195.00 L183.75,195.00 L184.00,195.00 L184.25,195.00 L184.50,195.00 L184.75,195.00 L185.00,195.00 L185.25,195.00 L185.50,195.00 L185.75,195.00 L186.00,195.00 L186.25,195.00 L186.50,195.00 L186.75,195.00 L187.00,195.00 L187.25,195.00 L187.50,195.00 L187.75,195.00 L188.00,194.99 L188.25,194.99 L188.50,194.98 L188.75,194.96 L189.00,194.94 L189.25,194.91 L189.50,194.87 L189.75,194.82 L190.00,194.75 L190.25,194.68 L190.50,194.61 L190.75,194.53 L191.00,194.47 L191.25,194.42 L191.50,194.40 L191.75,194.40 L192.00,194.43 L192.25,194.48 L192.50,194.55 L192.75,194.62 L193.00,194.70 L193.25,194.77 L193.50,194.83 L193.75,194.88 L194.00,194.92 L194.25,194.95 L194.50,194.97 L194.75,194.98 L195.00,194.99 L195.25,194.99 L195.50,195.00 L195.75,195.00 L196.00,195.00 L196.25,195.00 L196.50,195.00 L196.75,195.00 L197.00,195.00 L197.25,195.00 L197.50,195.00 L197.75,195.00 L198.00,195.00 L198.25,195.00 L198.50,195.00 L198.75,195.00 L199.00,195.00 L199.25,195.00 L199.50,195.00 L199.75,195.00 L200.00,195.00 L200.25,195.00 L200.50,195.00 L200.75,195.00 L201.00,195.00 L201.25,195.00 L201.50,195.00 L201.75,195.00 L202.00,195.00 L202.25,195.00 L202.50,195.00 L202.75,195.00 L203.00,195.00 L203.25,195.00 L203.50,195.00 L203.75,195.00 L204.00,195.00 L204.25,195.00 L204.50,195.00 L204.75,195.00 L205.00,195.00 L205.25,195.00 L205.50,195.00 L205.75,195.00 L206.00,195.00 L206.25,195.00 L206.50,195.00 L206.75,195.00 L207.00,195.00 L207.25,195.00 L207.50,195.00 L207.75,195.00 L208.00,195.00 L208.25,195.00 L208.50,195.00 L208.75,195.00 L209.00,195.00 L209.25,195.00 L209.50,195.00 L209.75,195.00 L210.00,195.00 L210.25,195.00 L210.50,195.00 L210.75,195.00 L211.00,195.00 L211.25,195.00 L211.50,195.00 L211.75,195.00 L212.00,195.00 L212.25,195.00 L212.50,195.00 L212.75,194.99 L213.00,194.99 L213.25,194.98 L213.50,194.97 L213.75,194.96 L214.00,194.93 L214.25,194.90 L214.50,194.86 L214.75,194.81 L215.00,194.75 L215.25,194.67 L215.50,194.59 L215.75,194.49 L216.00,194.39 L216.25,194.28 L216.50,194.18 L216.75,194.08 L217.00,193.99 L217.25,193.89 L217.50,193.79 L217.75,193.65 L218.00,193.46 L218.25,193.18 L218.50,192.78 L218.75,192.21 L219.00,191.46 L219.25,190.50 L219.50,189.35 L219.75,188.06 L220.00,186.70 L220.25,185.37 L220.50,184.17 L220.75,183.22 L221.00,182.61 L221.25,182.39 L221.50,182.48 L221.75,182.83 L222.00,183.37 L222.25,184.05 L222.50,184.81 L222.75,185.58 L223.00,186.33 L223.25,187.04 L223.50,187.72 L223.75,188.38 L224.00,189.05 L224.25,189.70 L224.50,190.34 L224.75,190.96 L225.00,191.56 L225.25,192.13 L225.50,192.66 L225.75,193.14 L226.00,193.56 L226.25,193.91 L226.50,194.20 L226.75,194.43 L227.00,194.61 L227.25,194.74 L227.50,194.83 L227.75,194.89 L228.00,194.94 L228.25,194.96 L228.50,194.98 L228.75,194.99 L229.00,194.99 L229.25,195.00 L229.50,195.00 L229.75,195.00 L230.00,195.00 L230.25,195.00 L230.50,195.00 L230.75,195.00 L231.00,195.00 L231.25,195.00 L231.50,195.00 L231.75,195.00 L232.00,195.00 L232.25,195.00 L232.50,195.00 L232.75,195.00 L233.00,195.00 L233.25,195.00 L233.50,195.00 L233.75,195.00 L234.00,195.00 L234.25,195.00 L234.50,195.00 L234.75,195.00 L235.00,195.00 L235.25,194.99 L235.50,194.99 L235.75,194.97 L236.00,194.96 L236.25,194.93 L236.50,194.89 L236.75,194.84 L237.00,194.77 L237.25,194.69 L237.50,194.59 L237.75,194.49 L238.00,194.40 L238.25,194.31 L238.50,194.24 L238.75,194.21 L239.00,194.20 L239.25,194.23 L239.50,194.29 L239.75,194.38 L240.00,194.47 L240.25,194.58 L240.50,194.67 L240.75,194.76 L241.00,194.83 L241.25,194.88 L241.50,194.92 L241.75,194.95 L242.00,194.97 L242.25,194.98 L242.50,194.99 L242.75,195.00 L243.00,195.00 L243.25,195.00 L243.50,195.00 L243.75,195.00 L244.00,195.00 L244.25,195.00 L244.50,195.00 L244.75,195.00 L245.00,195.00 L245.25,195.00 L245.50,195.00 L245.75,195.00 L246.00,195.00 L246.25,195.00 L246.50,195.00 L246.50,195.00 Z" fill="#1b4a5a" stroke="#4d5d66" stroke-width="0.6" stroke-linejoin="round"/>
<text x="14" y="184.80" font-size="6.5" fill="#222" stroke="#222" stroke-width="0.15" textLength="44.4" lengthAdjust="spacingAndGlyphs">Fetal liver CD34</text>
<text x="62.0" y="184.80" font-size="6.5" fill="#222" stroke="#222" stroke-width="0.15" textLength="66.00" lengthAdjust="spacingAndGlyphs">HSPCs | GSM1816091</text>
<path d="M58.45,180.10H60.75M59.60,178.95V181.25" stroke="#222" stroke-width="0.6"/>
<path d="M13.00,212.20 L13.00,212.20 L13.25,212.20 L13.50,212.20 L13.75,212.20 L14.00,212.20 L14.25,212.20 L14.50,212.20 L14.75,212.20 L15.00,212.20 L15.25,212.20 L15.50,212.20 L15.75,212.20 L16.00,212.20 L16.25,212.20 L16.50,212.20 L16.75,212.20 L17.00,212.20 L17.25,212.20 L17.50,212.20 L17.75,212.20 L18.00,212.20 L18.25,212.20 L18.50,212.20 L18.75,212.20 L19.00,212.20 L19.25,212.20 L19.50,212.20 L19.75,212.20 L20.00,212.20 L20.25,212.20 L20.50,212.20 L20.75,212.20 L21.00,212.20 L21.25,212.20 L21.50,212.20 L21.75,212.20 L22.00,212.20 L22.25,212.20 L22.50,212.20 L22.75,212.20 L23.00,212.20 L23.25,212.20 L23.50,212.20 L23.75,212.20 L24.00,212.20 L24.25,212.20 L24.50,212.20 L24.75,212.20 L25.00,212.20 L25.25,212.20 L25.50,212.20 L25.75,212.20 L26.00,212.20 L26.25,212.20 L26.50,212.20 L26.75,212.20 L27.00,212.20 L27.25,212.20 L27.50,212.20 L27.75,212.20 L28.00,212.20 L28.25,212.20 L28.50,212.20 L28.75,212.20 L29.00,212.20 L29.25,212.20 L29.50,212.20 L29.75,212.20 L30.00,212.20 L30.25,212.20 L30.50,212.20 L30.75,212.20 L31.00,212.20 L31.25,212.20 L31.50,212.20 L31.75,212.20 L32.00,212.20 L32.25,212.20 L32.50,212.20 L32.75,212.20 L33.00,212.20 L33.25,212.20 L33.50,212.20 L33.75,212.20 L34.00,212.20 L34.25,212.20 L34.50,212.20 L34.75,212.20 L35.00,212.20 L35.25,212.20 L35.50,212.20 L35.75,212.20 L36.00,212.20 L36.25,212.20 L36.50,212.20 L36.75,212.20 L37.00,212.20 L37.25,212.20 L37.50,212.20 L37.75,212.20 L38.00,212.20 L38.25,212.20 L38.50,212.20 L38.75,212.20 L39.00,212.20 L39.25,212.20 L39.50,212.20 L39.75,212.20 L40.00,212.20 L40.25,212.20 L40.50,212.20 L40.75,212.20 L41.00,212.20 L41.25,212.20 L41.50,212.20 L41.75,212.20 L42.00,212.20 L42.25,212.20 L42.50,212.20 L42.75,212.20 L43.00,212.20 L43.25,212.20 L43.50,212.20 L43.75,212.20 L44.00,212.20 L44.25,212.20 L44.50,212.20 L44.75,212.20 L45.00,212.20 L45.25,212.20 L45.50,212.20 L45.75,212.20 L46.00,212.20 L46.25,212.20 L46.50,212.20 L46.75,212.20 L47.00,212.20 L47.25,212.20 L47.50,212.20 L47.75,212.20 L48.00,212.20 L48.25,212.20 L48.50,212.20 L48.75,212.20 L49.00,212.20 L49.25,212.20 L49.50,212.20 L49.75,212.20 L50.00,212.20 L50.25,212.20 L50.50,212.20 L50.75,212.20 L51.00,212.20 L51.25,212.20 L51.50,212.20 L51.75,212.20 L52.00,212.20 L52.25,212.20 L52.50,212.20 L52.75,212.20 L53.00,212.20 L53.25,212.20 L53.50,212.20 L53.75,212.20 L54.00,212.20 L54.25,212.20 L54.50,212.20 L54.75,212.20 L55.00,212.20 L55.25,212.20 L55.50,212.20 L55.75,212.20 L56.00,212.20 L56.25,212.20 L56.50,212.20 L56.75,212.20 L57.00,212.20 L57.25,212.20 L57.50,212.20 L57.75,212.20 L58.00,212.20 L58.25,212.20 L58.50,212.20 L58.75,212.20 L59.00,212.20 L59.25,212.20 L59.50,212.20 L59.75,212.20 L60.00,212.20 L60.25,212.20 L60.50,212.20 L60.75,212.20 L61.00,212.20 L61.25,212.20 L61.50,212.20 L61.75,212.20 L62.00,212.20 L62.25,212.19 L62.50,212.18 L62.75,212.16 L63.00,212.13 L63.25,212.08 L63.50,212.01 L63.75,211.91 L64.00,211.78 L64.25,211.61 L64.50,211.43 L64.75,211.24 L65.00,211.06 L65.25,210.91 L65.50,210.82 L65.75,210.80 L66.00,210.85 L66.25,210.96 L66.50,211.13 L66.75,211.31 L67.00,211.50 L67.25,211.68 L67.50,211.83 L67.75,211.95 L68.00,212.04 L68.25,212.10 L68.50,212.15 L68.75,212.17 L69.00,212.18 L69.25,212.19 L69.50,212.20 L69.75,212.20 L70.00,212.20 L70.25,212.20 L70.50,212.20 L70.75,212.20 L71.00,212.20 L71.25,212.20 L71.50,212.20 L71.75,212.20 L72.00,212.20 L72.25,212.20 L72.50,212.20 L72.75,212.20 L73.00,212.20 L73.25,212.20 L73.50,212.20 L73.75,212.20 L74.00,212.20 L74.25,212.20 L74.50,212.20 L74.75,212.20 L75.00,212.20 L75.25,212.20 L75.50,212.20 L75.75,212.20 L76.00,212.20 L76.25,212.20 L76.50,212.20 L76.75,212.20 L77.00,212.20 L77.25,212.20 L77.50,212.20 L77.75,212.20 L78.00,212.20 L78.25,212.20 L78.50,212.20 L78.75,212.20 L79.00,212.20 L79.25,212.20 L79.50,212.20 L79.75,212.20 L80.00,212.20 L80.25,212.20 L80.50,212.20 L80.75,212.20 L81.00,212.20 L81.25,212.20 L81.50,212.20 L81.75,212.20 L82.00,212.20 L82.25,212.20 L82.50,212.20 L82.75,212.20 L83.00,212.20 L83.25,212.20 L83.50,212.20 L83.75,212.20 L84.00,212.20 L84.25,212.20 L84.50,212.20 L84.75,212.20 L85.00,212.20 L85.25,212.20 L85.50,212.20 L85.75,212.20 L86.00,212.20 L86.25,212.20 L86.50,212.20 L86.75,212.20 L87.00,212.20 L87.25,212.20 L87.50,212.20 L87.75,212.20 L88.00,212.20 L88.25,212.20 L88.50,212.20 L88.75,212.20 L89.00,212.20 L89.25,212.20 L89.50,212.20 L89.75,212.20 L90.00,212.20 L90.25,212.20 L90.50,212.20 L90.75,212.20 L91.00,212.20 L91.25,212.20 L91.50,212.20 L91.75,212.20 L92.00,212.20 L92.25,212.20 L92.50,212.20 L92.75,212.20 L93.00,212.20 L93.25,212.20 L93.50,212.20 L93.75,212.20 L94.00,212.20 L94.25,212.20 L94.50,212.20 L94.75,212.20 L95.00,212.20 L95.25,212.20 L95.50,212.20 L95.75,212.20 L96.00,212.20 L96.25,212.20 L96.50,212.20 L96.75,212.20 L97.00,212.20 L97.25,212.20 L97.50,212.20 L97.75,212.20 L98.00,212.20 L98.25,212.20 L98.50,212.20 L98.75,212.20 L99.00,212.20 L99.25,212.20 L99.50,212.20 L99.75,212.20 L100.00,212.20 L100.25,212.20 L100.50,212.20 L100.75,212.20 L101.00,212.20 L101.25,212.20 L101.50,212.20 L101.75,212.20 L102.00,212.20 L102.25,212.20 L102.50,212.20 L102.75,212.20 L103.00,212.20 L103.25,212.20 L103.50,212.20 L103.75,212.20 L104.00,212.20 L104.25,212.20 L104.50,212.20 L104.75,212.20 L105.00,212.20 L105.25,212.20 L105.50,212.20 L105.75,212.20 L106.00,212.20 L106.25,212.20 L106.50,212.20 L106.75,212.20 L107.00,212.20 L107.25,212.20 L107.50,212.20 L107.75,212.20 L108.00,212.20 L108.25,212.20 L108.50,212.20 L108.75,212.20 L109.00,212.20 L109.25,212.20 L109.50,212.20 L109.75,212.20 L110.00,212.20 L110.25,212.20 L110.50,212.20 L110.75,212.20 L111.00,212.20 L111.25,212.20 L111.50,212.20 L111.75,212.20 L112.00,212.20 L112.25,212.20 L112.50,212.20 L112.75,212.20 L113.00,212.20 L113.25,212.20 L113.50,212.20 L113.75,212.20 L114.00,212.20 L114.25,212.20 L114.50,212.20 L114.75,212.20 L115.00,212.20 L115.25,212.20 L115.50,212.20 L115.75,212.20 L116.00,212.20 L116.25,212.20 L116.50,212.20 L116.75,212.20 L117.00,212.20 L117.25,212.19 L117.50,212.18 L117.75,212.17 L118.00,212.15 L118.25,212.10 L118.50,212.04 L118.75,211.95 L119.00,211.83 L119.25,211.68 L119.50,211.50 L119.75,211.31 L120.00,211.13 L120.25,210.96 L120.50,210.85 L120.75,210.80 L121.00,210.82 L121.25,210.91 L121.50,211.06 L121.75,211.24 L122.00,211.43 L122.25,211.61 L122.50,211.78 L122.75,211.91 L123.00,212.01 L123.25,212.08 L123.50,212.13 L123.75,212.16 L124.00,212.18 L124.25,212.19 L124.50,212.20 L124.75,212.20 L125.00,212.20 L125.25,212.20 L125.50,212.20 L125.75,212.20 L126.00,212.20 L126.25,212.20 L126.50,212.20 L126.75,212.20 L127.00,212.20 L127.25,212.20 L127.50,212.20 L127.75,212.20 L128.00,212.20 L128.25,212.20 L128.50,212.20 L128.75,212.20 L129.00,212.20 L129.25,212.20 L129.50,212.20 L129.75,212.20 L130.00,212.20 L130.25,212.20 L130.50,212.20 L130.75,212.20 L131.00,212.20 L131.25,212.20 L131.50,212.20 L131.75,212.20 L132.00,212.20 L132.25,212.20 L132.50,212.20 L132.75,212.20 L133.00,212.20 L133.25,212.20 L133.50,212.20 L133.75,212.20 L134.00,212.20 L134.25,212.20 L134.50,212.20 L134.75,212.20 L135.00,212.20 L135.25,212.20 L135.50,212.20 L135.75,212.20 L136.00,212.20 L136.25,212.20 L136.50,212.20 L136.75,212.20 L137.00,212.20 L137.25,212.20 L137.50,212.20 L137.75,212.20 L138.00,212.20 L138.25,212.20 L138.50,212.20 L138.75,212.20 L139.00,212.20 L139.25,212.20 L139.50,212.20 L139.75,212.20 L140.00,212.20 L140.25,212.20 L140.50,212.20 L140.75,212.20 L141.00,212.20 L141.25,212.20 L141.50,212.20 L141.75,212.20 L142.00,212.20 L142.25,212.20 L142.50,212.20 L142.75,212.20 L143.00,212.20 L143.25,212.20 L143.50,212.20 L143.75,212.20 L144.00,212.20 L144.25,212.20 L144.50,212.20 L144.75,212.20 L145.00,212.20 L145.25,212.20 L145.50,212.20 L145.75,212.20 L146.00,212.20 L146.25,212.20 L146.50,212.20 L146.75,212.20 L147.00,212.20 L147.25,212.20 L147.50,212.20 L147.75,212.20 L148.00,212.20 L148.25,212.20 L148.50,212.20 L148.75,212.20 L149.00,212.20 L149.25,212.20 L149.50,212.20 L149.75,212.20 L150.00,212.20 L150.25,212.20 L150.50,212.20 L150.75,212.20 L151.00,212.20 L151.25,212.20 L151.50,212.20 L151.75,212.20 L152.00,212.20 L152.25,212.20 L152.50,212.20 L152.75,212.20 L153.00,212.20 L153.25,212.20 L153.50,212.20 L153.75,212.20 L154.00,212.20 L154.25,212.20 L154.50,212.20 L154.75,212.20 L155.00,212.20 L155.25,212.20 L155.50,212.20 L155.75,212.20 L156.00,212.20 L156.25,212.20 L156.50,212.20 L156.75,212.20 L157.00,212.20 L157.25,212.20 L157.50,212.20 L157.75,212.20 L158.00,212.20 L158.25,212.20 L158.50,212.20 L158.75,212.20 L159.00,212.20 L159.25,212.20 L159.50,212.20 L159.75,212.20 L160.00,212.20 L160.25,212.20 L160.50,212.20 L160.75,212.20 L161.00,212.20 L161.25,212.20 L161.50,212.20 L161.75,212.20 L162.00,212.20 L162.25,212.20 L162.50,212.20 L162.75,212.20 L163.00,212.20 L163.25,212.20 L163.50,212.20 L163.75,212.19 L164.00,212.19 L164.25,212.18 L164.50,212.16 L164.75,212.14 L165.00,212.10 L165.25,212.06 L165.50,212.00 L165.75,211.92 L166.00,211.82 L166.25,211.71 L166.50,211.58 L166.75,211.44 L167.00,211.30 L167.25,211.17 L167.50,211.05 L167.75,210.97 L168.00,210.91 L168.25,210.90 L168.50,210.93 L168.75,211.00 L169.00,211.10 L169.25,211.22 L169.50,211.36 L169.75,211.50 L170.00,211.63 L170.25,211.76 L170.50,211.86 L170.75,211.95 L171.00,212.02 L171.25,212.08 L171.50,212.12 L171.75,212.15 L172.00,212.17 L172.25,212.18 L172.50,212.19 L172.75,212.19 L173.00,212.20 L173.25,212.20 L173.50,212.20 L173.75,212.20 L174.00,212.20 L174.25,212.20 L174.50,212.20 L174.75,212.20 L175.00,212.20 L175.25,212.20 L175.50,212.20 L175.75,212.20 L176.00,212.20 L176.25,212.20 L176.50,212.20 L176.75,212.20 L177.00,212.20 L177.25,212.20 L177.50,212.20 L177.75,212.20 L178.00,212.20 L178.25,212.20 L178.50,212.20 L178.75,212.20 L179.00,212.20 L179.25,212.20 L179.50,212.20 L179.75,212.20 L180.00,212.20 L180.25,212.20 L180.50,212.20 L180.75,212.20 L181.00,212.20 L181.25,212.20 L181.50,212.20 L181.75,212.20 L182.00,212.20 L182.25,212.19 L182.50,212.18 L182.75,212.17 L183.00,212.15 L183.25,212.11 L183.50,212.07 L183.75,212.02 L184.00,211.96 L184.25,211.90 L184.50,211.85 L184.75,211.81 L185.00,211.80 L185.25,211.81 L185.50,211.85 L185.75,211.90 L186.00,211.96 L186.25,212.02 L186.50,212.07 L186.75,212.11 L187.00,212.15 L187.25,212.17 L187.50,212.18 L187.75,212.19 L188.00,212.20 L188.25,212.20 L188.50,212.20 L188.75,212.20 L189.00,212.20 L189.25,212.20 L189.50,212.20 L189.75,212.20 L190.00,212.20 L190.25,212.20 L190.50,212.20 L190.75,212.20 L191.00,212.20 L191.25,212.20 L191.50,212.20 L191.75,212.20 L192.00,212.20 L192.25,212.20 L192.50,212.20 L192.75,212.20 L193.00,212.20 L193.25,212.20 L193.50,212.20 L193.75,212.20 L194.00,212.20 L194.25,212.20 L194.50,212.20 L194.75,212.20 L195.00,212.20 L195.25,212.20 L195.50,212.20 L195.75,212.20 L196.00,212.20 L196.25,212.20 L196.50,212.20 L196.75,212.20 L197.00,212.20 L197.25,212.19 L197.50,212.18 L197.75,212.17 L198.00,212.15 L198.25,212.11 L198.50,212.07 L198.75,212.02 L199.00,211.96 L199.25,211.90 L199.50,211.85 L199.75,211.81 L200.00,211.80 L200.25,211.81 L200.50,211.85 L200.75,211.90 L201.00,211.96 L201.25,212.02 L201.50,212.07 L201.75,212.11 L202.00,212.15 L202.25,212.17 L202.50,212.18 L202.75,212.19 L203.00,212.20 L203.25,212.20 L203.50,212.20 L203.75,212.20 L204.00,212.20 L204.25,212.20 L204.50,212.20 L204.75,212.20 L205.00,212.20 L205.25,212.20 L205.50,212.20 L205.75,212.20 L206.00,212.20 L206.25,212.20 L206.50,212.20 L206.75,212.20 L207.00,212.20 L207.25,212.20 L207.50,212.20 L207.75,212.20 L208.00,212.20 L208.25,212.20 L208.50,212.20 L208.75,212.20 L209.00,212.20 L209.25,212.20 L209.50,212.20 L209.75,212.20 L210.00,212.20 L210.25,212.20 L210.50,212.20 L210.75,212.20 L211.00,212.20 L211.25,212.20 L211.50,212.20 L211.75,212.20 L212.00,212.20 L212.25,212.20 L212.50,212.20 L212.75,212.20 L213.00,212.20 L213.25,212.20 L213.50,212.20 L213.75,212.20 L214.00,212.20 L214.25,212.20 L214.50,212.20 L214.75,212.20 L215.00,212.20 L215.25,212.20 L215.50,212.20 L215.75,212.20 L216.00,212.20 L216.25,212.20 L216.50,212.20 L216.75,212.20 L217.00,212.20 L217.25,212.19 L217.50,212.19 L217.75,212.18 L218.00,212.16 L218.25,212.12 L218.50,212.06 L218.75,211.95 L219.00,211.78 L219.25,211.52 L219.50,211.14 L219.75,210.60 L220.00,209.87 L220.25,208.94 L220.50,207.80 L220.75,206.48 L221.00,205.03 L221.25,203.54 L221.50,202.13 L221.75,200.90 L222.00,199.99 L222.25,199.48 L222.50,199.43 L222.75,199.74 L223.00,200.38 L223.25,201.30 L223.50,202.42 L223.75,203.66 L224.00,204.95 L224.25,206.22 L224.50,207.40 L224.75,208.45 L225.00,209.35 L225.25,210.09 L225.50,210.69 L225.75,211.14 L226.00,211.48 L226.25,211.73 L226.50,211.89 L226.75,212.01 L227.00,212.08 L227.25,212.13 L227.50,212.16 L227.75,212.18 L228.00,212.19 L228.25,212.19 L228.50,212.20 L228.75,212.20 L229.00,212.20 L229.25,212.20 L229.50,212.20 L229.75,212.20 L230.00,212.20 L230.25,212.20 L230.50,212.20 L230.75,212.20 L231.00,212.20 L231.25,212.20 L231.50,212.20 L231.75,212.20 L232.00,212.20 L232.25,212.20 L232.50,212.20 L232.75,212.20 L233.00,212.20 L233.25,212.20 L233.50,212.20 L233.75,212.20 L234.00,212.20 L234.25,212.20 L234.50,212.20 L234.75,212.20 L235.00,212.20 L235.25,212.20 L235.50,212.20 L235.75,212.20 L236.00,212.20 L236.25,212.20 L236.50,212.20 L236.75,212.20 L237.00,212.20 L237.25,212.20 L237.50,212.20 L237.75,212.20 L238.00,212.20 L238.25,212.20 L238.50,212.20 L238.75,212.20 L239.00,212.20 L239.25,212.20 L239.50,212.20 L239.75,212.20 L240.00,212.20 L240.25,212.20 L240.50,212.20 L240.75,212.20 L241.00,212.20 L241.25,212.20 L241.50,212.20 L241.75,212.20 L242.00,212.20 L242.25,212.20 L242.50,212.20 L242.75,212.20 L243.00,212.20 L243.25,212.20 L243.50,212.20 L243.75,212.20 L244.00,212.20 L244.25,212.20 L244.50,212.20 L244.75,212.20 L245.00,212.20 L245.25,212.20 L245.50,212.20 L245.75,212.20 L246.00,212.20 L246.25,212.20 L246.50,212.20 L246.50,212.20 Z" fill="#1b4a5a" stroke="#4d5d66" stroke-width="0.6" stroke-linejoin="round"/>
<text x="14" y="202.70" font-size="6.5" fill="#222" stroke="#222" stroke-width="0.15">CD34</text>
<text x="34.9" y="202.70" font-size="6.5" fill="#222" stroke="#222" stroke-width="0.15" textLength="65.80" lengthAdjust="spacingAndGlyphs">HSPCs | GSM1097884</text>
<path d="M30.35,198.00H32.65M31.50,196.85V199.15" stroke="#222" stroke-width="0.6"/>
<path d="M13.00,229.40 L13.00,229.40 L13.25,229.40 L13.50,229.40 L13.75,229.40 L14.00,229.40 L14.25,229.40 L14.50,229.40 L14.75,229.40 L15.00,229.40 L15.25,229.40 L15.50,229.40 L15.75,229.40 L16.00,229.40 L16.25,229.40 L16.50,229.40 L16.75,229.40 L17.00,229.40 L17.25,229.40 L17.50,229.40 L17.75,229.40 L18.00,229.40 L18.25,229.40 L18.50,229.40 L18.75,229.40 L19.00,229.40 L19.25,229.40 L19.50,229.40 L19.75,229.40 L20.00,229.40 L20.25,229.40 L20.50,229.40 L20.75,229.40 L21.00,229.40 L21.25,229.40 L21.50,229.40 L21.75,229.40 L22.00,229.40 L22.25,229.40 L22.50,229.40 L22.75,229.40 L23.00,229.40 L23.25,229.40 L23.50,229.40 L23.75,229.40 L24.00,229.40 L24.25,229.40 L24.50,229.40 L24.75,229.40 L25.00,229.40 L25.25,229.40 L25.50,229.40 L25.75,229.40 L26.00,229.40 L26.25,229.40 L26.50,229.40 L26.75,229.40 L27.00,229.40 L27.25,229.40 L27.50,229.40 L27.75,229.40 L28.00,229.40 L28.25,229.40 L28.50,229.40 L28.75,229.40 L29.00,229.40 L29.25,229.40 L29.50,229.40 L29.75,229.40 L30.00,229.40 L30.25,229.40 L30.50,229.40 L30.75,229.40 L31.00,229.40 L31.25,229.40 L31.50,229.40 L31.75,229.40 L32.00,229.40 L32.25,229.40 L32.50,229.40 L32.75,229.40 L33.00,229.40 L33.25,229.40 L33.50,229.40 L33.75,229.40 L34.00,229.40 L34.25,229.40 L34.50,229.40 L34.75,229.40 L35.00,229.40 L35.25,229.40 L35.50,229.40 L35.75,229.40 L36.00,229.40 L36.25,229.40 L36.50,229.40 L36.75,229.40 L37.00,229.40 L37.25,229.40 L37.50,229.40 L37.75,229.40 L38.00,229.40 L38.25,229.40 L38.50,229.40 L38.75,229.40 L39.00,229.40 L39.25,229.40 L39.50,229.40 L39.75,229.40 L40.00,229.40 L40.25,229.40 L40.50,229.40 L40.75,229.40 L41.00,229.40 L41.25,229.40 L41.50,229.40 L41.75,229.40 L42.00,229.40 L42.25,229.40 L42.50,229.40 L42.75,229.40 L43.00,229.40 L43.25,229.40 L43.50,229.40 L43.75,229.40 L44.00,229.40 L44.25,229.40 L44.50,229.40 L44.75,229.40 L45.00,229.40 L45.25,229.40 L45.50,229.40 L45.75,229.40 L46.00,229.40 L46.25,229.40 L46.50,229.40 L46.75,229.40 L47.00,229.40 L47.25,229.40 L47.50,229.40 L47.75,229.40 L48.00,229.40 L48.25,229.40 L48.50,229.40 L48.75,229.40 L49.00,229.40 L49.25,229.40 L49.50,229.40 L49.75,229.40 L50.00,229.40 L50.25,229.40 L50.50,229.40 L50.75,229.40 L51.00,229.40 L51.25,229.40 L51.50,229.40 L51.75,229.40 L52.00,229.40 L52.25,229.40 L52.50,229.40 L52.75,229.40 L53.00,229.40 L53.25,229.40 L53.50,229.40 L53.75,229.40 L54.00,229.40 L54.25,229.40 L54.50,229.40 L54.75,229.40 L55.00,229.40 L55.25,229.40 L55.50,229.40 L55.75,229.40 L56.00,229.40 L56.25,229.40 L56.50,229.40 L56.75,229.40 L57.00,229.40 L57.25,229.40 L57.50,229.40 L57.75,229.40 L58.00,229.40 L58.25,229.40 L58.50,229.40 L58.75,229.40 L59.00,229.40 L59.25,229.40 L59.50,229.40 L59.75,229.40 L60.00,229.40 L60.25,229.40 L60.50,229.40 L60.75,229.40 L61.00,229.40 L61.25,229.40 L61.50,229.40 L61.75,229.40 L62.00,229.40 L62.25,229.40 L62.50,229.40 L62.75,229.40 L63.00,229.40 L63.25,229.40 L63.50,229.40 L63.75,229.40 L64.00,229.40 L64.25,229.40 L64.50,229.40 L64.75,229.40 L65.00,229.40 L65.25,229.40 L65.50,229.40 L65.75,229.40 L66.00,229.40 L66.25,229.40 L66.50,229.40 L66.75,229.40 L67.00,229.40 L67.25,229.40 L67.50,229.40 L67.75,229.40 L68.00,229.40 L68.25,229.40 L68.50,229.40 L68.75,229.40 L69.00,229.40 L69.25,229.40 L69.50,229.40 L69.75,229.40 L70.00,229.40 L70.25,229.40 L70.50,229.40 L70.75,229.40 L71.00,229.40 L71.25,229.40 L71.50,229.40 L71.75,229.40 L72.00,229.40 L72.25,229.40 L72.50,229.40 L72.75,229.40 L73.00,229.40 L73.25,229.40 L73.50,229.40 L73.75,229.40 L74.00,229.40 L74.25,229.40 L74.50,229.40 L74.75,229.40 L75.00,229.40 L75.25,229.40 L75.50,229.40 L75.75,229.40 L76.00,229.40 L76.25,229.40 L76.50,229.40 L76.75,229.40 L77.00,229.40 L77.25,229.40 L77.50,229.40 L77.75,229.40 L78.00,229.40 L78.25,229.40 L78.50,229.40 L78.75,229.40 L79.00,229.40 L79.25,229.40 L79.50,229.40 L79.75,229.40 L80.00,229.40 L80.25,229.40 L80.50,229.40 L80.75,229.40 L81.00,229.40 L81.25,229.40 L81.50,229.40 L81.75,229.40 L82.00,229.40 L82.25,229.40 L82.50,229.40 L82.75,229.40 L83.00,229.40 L83.25,229.40 L83.50,229.40 L83.75,229.40 L84.00,229.40 L84.25,229.40 L84.50,229.40 L84.75,229.40 L85.00,229.39 L85.25,229.39 L85.50,229.38 L85.75,229.36 L86.00,229.33 L86.25,229.29 L86.50,229.23 L86.75,229.15 L87.00,229.04 L87.25,228.93 L87.50,228.80 L87.75,228.69 L88.00,228.59 L88.25,228.52 L88.50,228.50 L88.75,228.52 L89.00,228.59 L89.25,228.69 L89.50,228.80 L89.75,228.93 L90.00,229.04 L90.25,229.15 L90.50,229.23 L90.75,229.29 L91.00,229.33 L91.25,229.36 L91.50,229.38 L91.75,229.39 L92.00,229.39 L92.25,229.40 L92.50,229.40 L92.75,229.40 L93.00,229.40 L93.25,229.40 L93.50,229.40 L93.75,229.40 L94.00,229.40 L94.25,229.40 L94.50,229.40 L94.75,229.40 L95.00,229.40 L95.25,229.40 L95.50,229.40 L95.75,229.40 L96.00,229.40 L96.25,229.40 L96.50,229.40 L96.75,229.40 L97.00,229.40 L97.25,229.40 L97.50,229.40 L97.75,229.40 L98.00,229.40 L98.25,229.40 L98.50,229.40 L98.75,229.40 L99.00,229.40 L99.25,229.40 L99.50,229.40 L99.75,229.40 L100.00,229.40 L100.25,229.40 L100.50,229.40 L100.75,229.40 L101.00,229.40 L101.25,229.40 L101.50,229.40 L101.75,229.40 L102.00,229.40 L102.25,229.40 L102.50,229.40 L102.75,229.40 L103.00,229.40 L103.25,229.40 L103.50,229.40 L103.75,229.40 L104.00,229.40 L104.25,229.40 L104.50,229.40 L104.75,229.40 L105.00,229.40 L105.25,229.40 L105.50,229.40 L105.75,229.40 L106.00,229.40 L106.25,229.40 L106.50,229.40 L106.75,229.40 L107.00,229.40 L107.25,229.40 L107.50,229.40 L107.75,229.40 L108.00,229.40 L108.25,229.40 L108.50,229.40 L108.75,229.40 L109.00,229.40 L109.25,229.40 L109.50,229.40 L109.75,229.40 L110.00,229.40 L110.25,229.40 L110.50,229.40 L110.75,229.40 L111.00,229.40 L111.25,229.40 L111.50,229.40 L111.75,229.40 L112.00,229.40 L112.25,229.40 L112.50,229.40 L112.75,229.40 L113.00,229.40 L113.25,229.40 L113.50,229.40 L113.75,229.40 L114.00,229.40 L114.25,229.40 L114.50,229.40 L114.75,229.40 L115.00,229.40 L115.25,229.40 L115.50,229.40 L115.75,229.40 L116.00,229.40 L116.25,229.40 L116.50,229.40 L116.75,229.40 L117.00,229.40 L117.25,229.40 L117.50,229.40 L117.75,229.40 L118.00,229.40 L118.25,229.40 L118.50,229.40 L118.75,229.40 L119.00,229.40 L119.25,229.40 L119.50,229.40 L119.75,229.40 L120.00,229.40 L120.25,229.40 L120.50,229.40 L120.75,229.40 L121.00,229.40 L121.25,229.40 L121.50,229.40 L121.75,229.40 L122.00,229.40 L122.25,229.40 L122.50,229.40 L122.75,229.40 L123.00,229.40 L123.25,229.40 L123.50,229.40 L123.75,229.40 L124.00,229.40 L124.25,229.40 L124.50,229.40 L124.75,229.40 L125.00,229.40 L125.25,229.40 L125.50,229.40 L125.75,229.40 L126.00,229.40 L126.25,229.40 L126.50,229.40 L126.75,229.40 L127.00,229.40 L127.25,229.40 L127.50,229.40 L127.75,229.40 L128.00,229.40 L128.25,229.40 L128.50,229.40 L128.75,229.40 L129.00,229.40 L129.25,229.40 L129.50,229.40 L129.75,229.40 L130.00,229.40 L130.25,229.40 L130.50,229.40 L130.75,229.40 L131.00,229.40 L131.25,229.40 L131.50,229.40 L131.75,229.40 L132.00,229.40 L132.25,229.40 L132.50,229.40 L132.75,229.40 L133.00,229.40 L133.25,229.40 L133.50,229.40 L133.75,229.40 L134.00,229.40 L134.25,229.40 L134.50,229.40 L134.75,229.40 L135.00,229.40 L135.25,229.40 L135.50,229.40 L135.75,229.40 L136.00,229.40 L136.25,229.40 L136.50,229.40 L136.75,229.40 L137.00,229.40 L137.25,229.39 L137.50,229.38 L137.75,229.37 L138.00,229.35 L138.25,229.31 L138.50,229.27 L138.75,229.22 L139.00,229.16 L139.25,229.10 L139.50,229.05 L139.75,229.01 L140.00,229.00 L140.25,229.01 L140.50,229.05 L140.75,229.10 L141.00,229.16 L141.25,229.22 L141.50,229.27 L141.75,229.31 L142.00,229.35 L142.25,229.37 L142.50,229.38 L142.75,229.39 L143.00,229.40 L143.25,229.40 L143.50,229.40 L143.75,229.40 L144.00,229.40 L144.25,229.40 L144.50,229.40 L144.75,229.40 L145.00,229.40 L145.25,229.40 L145.50,229.40 L145.75,229.40 L146.00,229.40 L146.25,229.40 L146.50,229.40 L146.75,229.40 L147.00,229.40 L147.25,229.40 L147.50,229.40 L147.75,229.40 L148.00,229.40 L148.25,229.40 L148.50,229.40 L148.75,229.40 L149.00,229.40 L149.25,229.40 L149.50,229.40 L149.75,229.40 L150.00,229.40 L150.25,229.40 L150.50,229.40 L150.75,229.40 L151.00,229.40 L151.25,229.40 L151.50,229.40 L151.75,229.40 L152.00,229.40 L152.25,229.40 L152.50,229.40 L152.75,229.40 L153.00,229.40 L153.25,229.40 L153.50,229.40 L153.75,229.40 L154.00,229.40 L154.25,229.40 L154.50,229.40 L154.75,229.40 L155.00,229.40 L155.25,229.40 L155.50,229.40 L155.75,229.40 L156.00,229.40 L156.25,229.40 L156.50,229.40 L156.75,229.40 L157.00,229.40 L157.25,229.40 L157.50,229.40 L157.75,229.40 L158.00,229.40 L158.25,229.40 L158.50,229.40 L158.75,229.40 L159.00,229.40 L159.25,229.40 L159.50,229.40 L159.75,229.40 L160.00,229.40 L160.25,229.40 L160.50,229.40 L160.75,229.40 L161.00,229.40 L161.25,229.40 L161.50,229.40 L161.75,229.40 L162.00,229.40 L162.25,229.40 L162.50,229.40 L162.75,229.40 L163.00,229.40 L163.25,229.40 L163.50,229.40 L163.75,229.40 L164.00,229.40 L164.25,229.40 L164.50,229.39 L164.75,229.39 L165.00,229.38 L165.25,229.37 L165.50,229.36 L165.75,229.33 L166.00,229.30 L166.25,229.26 L166.50,229.20 L166.75,229.13 L167.00,229.03 L167.25,228.92 L167.50,228.78 L167.75,228.63 L168.00,228.46 L168.25,228.28 L168.50,228.10 L168.75,227.93 L169.00,227.78 L169.25,227.65 L169.50,227.56 L169.75,227.51 L170.00,227.50 L170.25,227.54 L170.50,227.63 L170.75,227.75 L171.00,227.90 L171.25,228.07 L171.50,228.25 L171.75,228.43 L172.00,228.60 L172.25,228.75 L172.50,228.89 L172.75,229.01 L173.00,229.11 L173.25,229.19 L173.50,229.25 L173.75,229.29 L174.00,229.33 L174.25,229.35 L174.50,229.37 L174.75,229.38 L175.00,229.39 L175.25,229.39 L175.50,229.40 L175.75,229.40 L176.00,229.40 L176.25,229.40 L176.50,229.40 L176.75,229.40 L177.00,229.40 L177.25,229.40 L177.50,229.40 L177.75,229.40 L178.00,229.40 L178.25,229.40 L178.50,229.40 L178.75,229.40 L179.00,229.40 L179.25,229.40 L179.50,229.40 L179.75,229.40 L180.00,229.40 L180.25,229.40 L180.50,229.40 L180.75,229.40 L181.00,229.40 L181.25,229.40 L181.50,229.40 L181.75,229.40 L182.00,229.40 L182.25,229.40 L182.50,229.40 L182.75,229.40 L183.00,229.40 L183.25,229.40 L183.50,229.40 L183.75,229.40 L184.00,229.40 L184.25,229.40 L184.50,229.40 L184.75,229.40 L185.00,229.40 L185.25,229.40 L185.50,229.40 L185.75,229.40 L186.00,229.40 L186.25,229.40 L186.50,229.40 L186.75,229.40 L187.00,229.40 L187.25,229.40 L187.50,229.40 L187.75,229.40 L188.00,229.40 L188.25,229.40 L188.50,229.40 L188.75,229.40 L189.00,229.40 L189.25,229.40 L189.50,229.40 L189.75,229.40 L190.00,229.40 L190.25,229.40 L190.50,229.40 L190.75,229.40 L191.00,229.40 L191.25,229.40 L191.50,229.40 L191.75,229.40 L192.00,229.40 L192.25,229.40 L192.50,229.40 L192.75,229.40 L193.00,229.40 L193.25,229.40 L193.50,229.40 L193.75,229.40 L194.00,229.40 L194.25,229.40 L194.50,229.40 L194.75,229.40 L195.00,229.40 L195.25,229.40 L195.50,229.40 L195.75,229.40 L196.00,229.40 L196.25,229.40 L196.50,229.40 L196.75,229.40 L197.00,229.40 L197.25,229.40 L197.50,229.40 L197.75,229.40 L198.00,229.40 L198.25,229.40 L198.50,229.40 L198.75,229.40 L199.00,229.40 L199.25,229.40 L199.50,229.40 L199.75,229.40 L200.00,229.40 L200.25,229.40 L200.50,229.40 L200.75,229.40 L201.00,229.40 L201.25,229.40 L201.50,229.40 L201.75,229.40 L202.00,229.40 L202.25,229.40 L202.50,229.40 L202.75,229.40 L203.00,229.40 L203.25,229.40 L203.50,229.40 L203.75,229.40 L204.00,229.40 L204.25,229.40 L204.50,229.40 L204.75,229.40 L205.00,229.40 L205.25,229.40 L205.50,229.40 L205.75,229.40 L206.00,229.40 L206.25,229.40 L206.50,229.40 L206.75,229.40 L207.00,229.40 L207.25,229.40 L207.50,229.39 L207.75,229.39 L208.00,229.38 L208.25,229.37 L208.50,229.35 L208.75,229.32 L209.00,229.27 L209.25,229.21 L209.50,229.14 L209.75,229.05 L210.00,228.96 L210.25,228.85 L210.50,228.76 L210.75,228.68 L211.00,228.62 L211.25,228.60 L211.50,228.61 L211.75,228.65 L212.00,228.73 L212.25,228.82 L212.50,228.91 L212.75,229.01 L213.00,229.11 L213.25,229.19 L213.50,229.25 L213.75,229.30 L214.00,229.34 L214.25,229.36 L214.50,229.38 L214.75,229.39 L215.00,229.39 L215.25,229.40 L215.50,229.40 L215.75,229.40 L216.00,229.40 L216.25,229.40 L216.50,229.40 L216.75,229.40 L217.00,229.39 L217.25,229.39 L217.50,229.38 L217.75,229.36 L218.00,229.34 L218.25,229.30 L218.50,229.23 L218.75,229.13 L219.00,228.99 L219.25,228.78 L219.50,228.49 L219.75,228.10 L220.00,227.58 L220.25,226.84 L220.50,225.72 L220.75,223.98 L221.00,221.51 L221.25,218.72 L221.50,216.51 L221.75,215.68 L222.00,216.20 L222.25,217.29 L222.50,218.21 L222.75,218.78 L223.00,219.15 L223.25,219.53 L223.50,220.02 L223.75,220.67 L224.00,221.45 L224.25,222.31 L224.50,223.21 L224.75,224.12 L225.00,224.98 L225.25,225.79 L225.50,226.51 L225.75,227.14 L226.00,227.67 L226.25,228.10 L226.50,228.45 L226.75,228.71 L227.00,228.92 L227.25,229.07 L227.50,229.18 L227.75,229.25 L228.00,229.31 L228.25,229.34 L228.50,229.36 L228.75,229.38 L229.00,229.39 L229.25,229.39 L229.50,229.40 L229.75,229.40 L230.00,229.40 L230.25,229.40 L230.50,229.40 L230.75,229.40 L231.00,229.40 L231.25,229.40 L231.50,229.40 L231.75,229.40 L232.00,229.40 L232.25,229.40 L232.50,229.40 L232.75,229.40 L233.00,229.40 L233.25,229.40 L233.50,229.40 L233.75,229.40 L234.00,229.40 L234.25,229.40 L234.50,229.40 L234.75,229.40 L235.00,229.40 L235.25,229.40 L235.50,229.40 L235.75,229.40 L236.00,229.40 L236.25,229.40 L236.50,229.40 L236.75,229.40 L237.00,229.40 L237.25,229.40 L237.50,229.40 L237.75,229.40 L238.00,229.40 L238.25,229.40 L238.50,229.40 L238.75,229.40 L239.00,229.40 L239.25,229.40 L239.50,229.40 L239.75,229.40 L240.00,229.40 L240.25,229.40 L240.50,229.40 L240.75,229.40 L241.00,229.40 L241.25,229.40 L241.50,229.40 L241.75,229.40 L242.00,229.40 L242.25,229.40 L242.50,229.40 L242.75,229.40 L243.00,229.40 L243.25,229.40 L243.50,229.40 L243.75,229.40 L244.00,229.40 L244.25,229.40 L244.50,229.40 L244.75,229.40 L245.00,229.40 L245.25,229.40 L245.50,229.40 L245.75,229.40 L246.00,229.40 L246.25,229.40 L246.50,229.40 L246.50,229.40 Z" fill="#1b4a5a" stroke="#4d5d66" stroke-width="0.6" stroke-linejoin="round"/>
<text x="14" y="220.80" font-size="6.5" fill="#222" stroke="#222" stroke-width="0.15">CD34</text>
<text x="34.9" y="220.80" font-size="6.5" fill="#222" stroke="#222" stroke-width="0.15" textLength="90.60" lengthAdjust="spacingAndGlyphs">UCB derived MKs | GSM607951</text>
<path d="M30.35,216.10H32.65M31.50,214.95V217.25" stroke="#222" stroke-width="0.6"/>
<line x1="30.4" y1="243.4" x2="168.8" y2="243.4" stroke="#2a3a40" stroke-width="0.75"/>
<rect x="30.5" y="242.1" width="3.8" height="2.6" fill="#14414f"/>
<path d="M34.2,241.6 L35.2,240.9 L50.3,240.9 L50.3,245.8 L35.2,245.8 L34.2,245.1 Z" fill="#14414f"/>
<path d="M44.8,242.4 L45.9,243.4 L44.8,244.4" stroke="#7fb0b0" stroke-width="0.5" fill="none"/>
<path d="M55.699999999999996,242.5 L56.9,243.4 L55.699999999999996,244.3" stroke="#1d2d33" stroke-width="0.6" fill="none"/>
<path d="M66.39999999999999,242.5 L67.6,243.4 L66.39999999999999,244.3" stroke="#1d2d33" stroke-width="0.6" fill="none"/>
<path d="M96.1,242.5 L97.3,243.4 L96.1,244.3" stroke="#1d2d33" stroke-width="0.6" fill="none"/>
<path d="M106.6,242.5 L107.8,243.4 L106.6,244.3" stroke="#1d2d33" stroke-width="0.6" fill="none"/>
<path d="M127.99999999999999,242.5 L129.2,243.4 L127.99999999999999,244.3" stroke="#1d2d33" stroke-width="0.6" fill="none"/>
<path d="M138.70000000000002,242.5 L139.9,243.4 L138.70000000000002,244.3" stroke="#1d2d33" stroke-width="0.6" fill="none"/>
<path d="M149.70000000000002,242.5 L150.9,243.4 L149.70000000000002,244.3" stroke="#1d2d33" stroke-width="0.6" fill="none"/>
<path d="M160.0,242.5 L161.2,243.4 L160.0,244.3" stroke="#1d2d33" stroke-width="0.6" fill="none"/>
<path d="M77.0,241.0 L78.2,241.0 Q79.9,243.4 78.2,245.8 L77.0,245.8 Z" fill="#14414f"/>
<rect x="83.6" y="242.0" width="3.9" height="2.7" fill="#14414f"/>
<rect x="118.1" y="241.7" width="2.0" height="3.5" fill="#14414f"/>
<rect x="155.0" y="241.6" width="2.1" height="3.7" fill="#14414f"/>
<rect x="165.1" y="242.0" width="3.7" height="2.7" fill="#14414f"/>
<text x="96" y="254.6" font-size="6.4" font-style="italic" fill="#333" stroke="#333" stroke-width="0.15">NFE2</text>
<rect x="0.5" y="0.5" width="519" height="297" fill="none" stroke="#505050" stroke-width="1"/>
</svg></body></html>
